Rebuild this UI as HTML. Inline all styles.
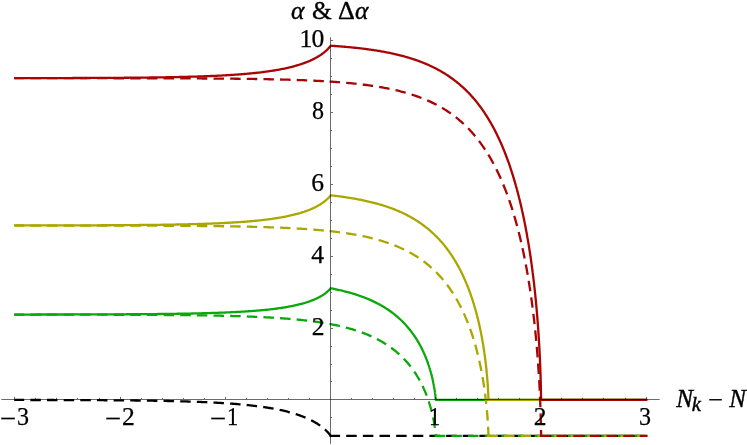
<!DOCTYPE html>
<html><head><meta charset="utf-8">
<style>
html,body{margin:0;padding:0;background:#fff;}
body{width:747px;height:445px;position:relative;overflow:hidden;font-family:"Liberation Serif",serif;color:#000;}
.g{position:absolute;white-space:nowrap;line-height:1;display:block;transform-origin:0 0;-webkit-text-stroke:0.2px #000;}
#txt{position:absolute;left:0;top:0;width:747px;height:445px;will-change:transform;}
</style></head><body>
<svg width="747" height="445" viewBox="0 0 747 445" style="position:absolute;left:0;top:0">
<defs><clipPath id="cp"><rect x="14.2" y="0" width="740" height="445"/></clipPath></defs>
<g fill="none" stroke-width="2.3" stroke-linejoin="round" stroke-linecap="square" clip-path="url(#cp)">
<path stroke="#000" stroke-dasharray="8.2 8.45" stroke-dashoffset="0.25" d="M15.10 399.96L16.15 399.96L17.20 399.96L18.26 399.96L19.31 399.96L20.36 399.97L21.41 399.97L22.46 399.97L23.52 399.97L24.57 399.97L25.62 399.97L26.67 399.97L27.72 399.98L28.78 399.98L29.83 399.98L30.88 399.98L31.93 399.98L32.98 399.98L34.04 399.99L35.09 399.99L36.14 399.99L37.19 399.99L38.24 399.99L39.30 399.99L40.35 400.00L41.40 400.00L42.45 400.00L43.50 400.00L44.56 400.00L45.61 400.01L46.66 400.01L47.71 400.01L48.76 400.01L49.82 400.01L50.87 400.02L51.92 400.02L52.97 400.02L54.02 400.02L55.08 400.03L56.13 400.03L57.18 400.03L58.23 400.03L59.28 400.04L60.34 400.04L61.39 400.04L62.44 400.05L63.49 400.05L64.54 400.05L65.60 400.06L66.65 400.06L67.70 400.06L68.75 400.06L69.80 400.07L70.86 400.07L71.91 400.07L72.96 400.08L74.01 400.08L75.06 400.09L76.12 400.09L77.17 400.09L78.22 400.10L79.27 400.10L80.32 400.11L81.38 400.11L82.43 400.11L83.48 400.12L84.53 400.12L85.58 400.13L86.64 400.13L87.69 400.14L88.74 400.14L89.79 400.15L90.84 400.15L91.90 400.16L92.95 400.16L94.00 400.17L95.05 400.17L96.10 400.18L97.16 400.18L98.21 400.19L99.26 400.19L100.31 400.20L101.36 400.21L102.42 400.21L103.47 400.22L104.52 400.23L105.57 400.23L106.62 400.24L107.68 400.25L108.73 400.25L109.78 400.26L110.83 400.27L111.88 400.27L112.94 400.28L113.99 400.29L115.04 400.30L116.09 400.31L117.14 400.31L118.20 400.32L119.25 400.33L120.30 400.34L121.35 400.35L122.40 400.36L123.46 400.37L124.51 400.38L125.56 400.39L126.61 400.40L127.66 400.41L128.72 400.42L129.77 400.43L130.82 400.44L131.87 400.45L132.92 400.46L133.98 400.47L135.03 400.48L136.08 400.50L137.13 400.51L138.18 400.52L139.24 400.53L140.29 400.54L141.34 400.56L142.39 400.57L143.44 400.58L144.50 400.60L145.55 400.61L146.60 400.63L147.65 400.64L148.70 400.66L149.76 400.67L150.81 400.69L151.86 400.70L152.91 400.72L153.96 400.74L155.02 400.75L156.07 400.77L157.12 400.79L158.17 400.81L159.22 400.83L160.28 400.85L161.33 400.86L162.38 400.88L163.43 400.90L164.48 400.93L165.54 400.95L166.59 400.97L167.64 400.99L168.69 401.01L169.74 401.03L170.80 401.06L171.85 401.08L172.90 401.11L173.95 401.13L175.00 401.15L176.06 401.18L177.11 401.21L178.16 401.23L179.21 401.26L180.26 401.29L181.32 401.32L182.37 401.35L183.42 401.38L184.47 401.41L185.52 401.44L186.58 401.47L187.63 401.50L188.68 401.53L189.73 401.57L190.78 401.60L191.84 401.64L192.89 401.67L193.94 401.71L194.99 401.75L196.04 401.78L197.10 401.82L198.15 401.86L199.20 401.90L200.25 401.94L201.30 401.99L202.36 402.03L203.41 402.07L204.46 402.12L205.51 402.16L206.56 402.21L207.62 402.26L208.67 402.31L209.72 402.36L210.77 402.41L211.82 402.46L212.88 402.51L213.93 402.57L214.98 402.62L216.03 402.68L217.08 402.73L218.14 402.79L219.19 402.85L220.24 402.92L221.29 402.98L222.34 403.04L223.40 403.11L224.45 403.17L225.50 403.24L226.55 403.31L227.60 403.38L228.66 403.46L229.71 403.53L230.76 403.61L231.81 403.69L232.86 403.76L233.92 403.85L234.97 403.93L236.02 404.01L237.07 404.10L238.12 404.19L239.18 404.28L240.23 404.37L241.28 404.47L242.33 404.56L243.38 404.66L244.44 404.76L245.49 404.87L246.54 404.97L247.59 405.08L248.64 405.19L249.70 405.30L250.75 405.42L251.80 405.54L252.85 405.66L253.90 405.78L254.96 405.91L256.01 406.03L257.06 406.17L258.11 406.30L259.16 406.44L260.22 406.58L261.27 406.73L262.32 406.87L263.37 407.03L264.42 407.18L265.48 407.34L266.53 407.50L267.58 407.67L268.63 407.84L269.68 408.01L270.74 408.19L271.79 408.38L272.84 408.56L273.89 408.76L274.94 408.95L276.00 409.15L277.05 409.36L278.10 409.57L279.15 409.79L280.20 410.01L281.26 410.24L282.31 410.48L283.36 410.72L284.41 410.96L285.46 411.22L286.52 411.48L287.57 411.74L288.62 412.02L289.67 412.30L290.72 412.59L291.78 412.88L292.83 413.19L293.88 413.50L294.93 413.83L295.98 414.16L297.04 414.50L298.09 414.85L299.14 415.21L300.18 415.58L300.19 415.58L301.21 415.96L301.24 415.97L302.22 416.33L302.30 416.36L303.21 416.72L303.35 416.77L304.18 417.10L304.40 417.19L305.14 417.50L305.45 417.63L306.07 417.89L306.50 418.08L306.99 418.29L307.56 418.54L307.90 418.69L308.61 419.02L308.78 419.10L309.65 419.51L309.66 419.52L310.50 419.93L310.71 420.03L311.33 420.34L311.76 420.56L312.15 420.76L312.82 421.11L312.95 421.18L313.73 421.61L313.87 421.69L314.49 422.04L314.92 422.28L315.24 422.46L315.96 422.90L315.97 422.90L316.67 423.33L317.02 423.54L317.37 423.76L318.04 424.19L318.08 424.22L318.70 424.63L319.13 424.92L319.34 425.06L319.96 425.50L320.18 425.65L320.57 425.93L321.15 426.36L321.23 426.42L321.72 426.79L322.28 427.22L322.28 427.23L322.81 427.65L323.33 428.07L323.34 428.08L323.83 428.49L324.31 428.91L324.39 428.98L324.77 429.32L325.22 429.73L325.44 429.93L325.65 430.12L326.06 430.52L326.46 430.90L326.49 430.94L326.83 431.28L327.19 431.65L327.54 432.01L327.54 432.02L327.86 432.36L328.17 432.69L328.46 433.02L328.60 433.18L328.73 433.33L328.98 433.62L329.22 433.91L329.44 434.17L329.64 434.42L329.65 434.43L329.82 434.65L329.99 434.86L330.14 435.05L330.27 435.23L330.38 435.38L330.48 435.50L330.56 435.61L330.62 435.69L330.66 435.75L330.69 435.79L330.70 435.80"/>
<path stroke="#000" stroke-dasharray="8.2 8.45" stroke-dashoffset="0" d="M330.70 435.80L331.75 435.80L332.80 435.80L333.86 435.80L334.91 435.80L335.96 435.80L337.01 435.80L338.06 435.80L339.12 435.80L340.17 435.80L341.22 435.80L342.27 435.80L343.32 435.80L344.38 435.80L345.43 435.80L346.48 435.80L347.53 435.80L348.58 435.80L349.64 435.80L350.69 435.80L351.74 435.80L352.79 435.80L353.84 435.80L354.90 435.80L355.95 435.80L357.00 435.80L358.05 435.80L359.10 435.80L360.16 435.80L361.21 435.80L362.26 435.80L363.31 435.80L364.36 435.80L365.42 435.80L366.47 435.80L367.52 435.80L368.57 435.80L369.62 435.80L370.68 435.80L371.73 435.80L372.78 435.80L373.83 435.80L374.88 435.80L375.94 435.80L376.99 435.80L378.04 435.80L379.09 435.80L380.14 435.80L381.20 435.80L382.25 435.80L383.30 435.80L384.35 435.80L385.40 435.80L386.46 435.80L387.51 435.80L388.56 435.80L389.61 435.80L390.66 435.80L391.72 435.80L392.77 435.80L393.82 435.80L394.87 435.80L395.92 435.80L396.98 435.80L398.03 435.80L399.08 435.80L400.13 435.80L401.18 435.80L402.24 435.80L403.29 435.80L404.34 435.80L405.39 435.80L406.44 435.80L407.50 435.80L408.55 435.80L409.60 435.80L410.65 435.80L411.70 435.80L412.76 435.80L413.81 435.80L414.86 435.80L415.91 435.80L416.96 435.80L418.02 435.80L419.07 435.80L420.12 435.80L421.17 435.80L422.22 435.80L423.28 435.80L424.33 435.80L425.38 435.80L426.43 435.80L427.48 435.80L428.54 435.80L429.59 435.80L430.64 435.80L431.69 435.80L432.74 435.80L433.80 435.80L434.85 435.80L435.90 435.80L436.95 435.80L438.00 435.80L439.06 435.80L440.11 435.80L441.16 435.80L442.21 435.80L443.26 435.80L444.32 435.80L445.37 435.80L446.42 435.80L447.47 435.80L448.52 435.80L449.58 435.80L450.63 435.80L451.68 435.80L452.73 435.80L453.78 435.80L454.84 435.80L455.89 435.80L456.94 435.80L457.99 435.80L459.04 435.80L460.10 435.80L461.15 435.80L462.20 435.80L463.25 435.80L464.30 435.80L465.36 435.80L466.41 435.80L467.46 435.80L468.51 435.80L469.56 435.80L470.62 435.80L471.67 435.80L472.72 435.80L473.77 435.80L474.82 435.80L475.88 435.80L476.93 435.80L477.98 435.80L479.03 435.80L480.08 435.80L481.14 435.80L482.19 435.80L483.24 435.80L484.29 435.80L485.34 435.80L486.40 435.80L487.45 435.80L488.50 435.80L489.55 435.80L490.60 435.80L491.66 435.80L492.71 435.80L493.76 435.80L494.81 435.80L495.86 435.80L496.92 435.80L497.97 435.80L499.02 435.80L500.07 435.80L501.12 435.80L502.18 435.80L503.23 435.80L504.28 435.80L505.33 435.80L506.38 435.80L507.44 435.80L508.49 435.80L509.54 435.80L510.59 435.80L511.64 435.80L512.70 435.80L513.75 435.80L514.80 435.80L515.85 435.80L516.90 435.80L517.96 435.80L519.01 435.80L520.06 435.80L521.11 435.80L522.16 435.80L523.22 435.80L524.27 435.80L525.32 435.80L526.37 435.80L527.42 435.80L528.48 435.80L529.53 435.80L530.58 435.80L531.63 435.80L532.68 435.80L533.74 435.80L534.79 435.80L535.84 435.80L536.89 435.80L537.94 435.80L539.00 435.80L540.05 435.80L541.10 435.80L542.15 435.80L543.20 435.80L544.26 435.80L545.31 435.80L546.36 435.80L547.41 435.80L548.46 435.80L549.52 435.80L550.57 435.80L551.62 435.80L552.67 435.80L553.72 435.80L554.78 435.80L555.83 435.80L556.88 435.80L557.93 435.80L558.98 435.80L560.04 435.80L561.09 435.80L562.14 435.80L563.19 435.80L564.24 435.80L565.30 435.80L566.35 435.80L567.40 435.80L568.45 435.80L569.50 435.80L570.56 435.80L571.61 435.80L572.66 435.80L573.71 435.80L574.76 435.80L575.82 435.80L576.87 435.80L577.92 435.80L578.97 435.80L580.02 435.80L581.08 435.80L582.13 435.80L583.18 435.80L584.23 435.80L585.28 435.80L586.34 435.80L587.39 435.80L588.44 435.80L589.49 435.80L590.54 435.80L591.60 435.80L592.65 435.80L593.70 435.80L594.75 435.80L595.80 435.80L596.86 435.80L597.91 435.80L598.96 435.80L600.01 435.80L601.06 435.80L602.12 435.80L603.17 435.80L604.22 435.80L605.27 435.80L606.32 435.80L607.38 435.80L608.43 435.80L609.48 435.80L610.53 435.80L611.58 435.80L612.64 435.80L613.69 435.80L614.74 435.80L615.79 435.80L616.84 435.80L617.90 435.80L618.95 435.80L620.00 435.80L621.05 435.80L622.10 435.80L623.16 435.80L624.21 435.80L625.26 435.80L626.31 435.80L627.36 435.80L628.42 435.80L629.47 435.80L630.52 435.80L631.57 435.80L632.62 435.80L633.68 435.80L634.73 435.80L635.78 435.80L636.83 435.80L637.88 435.80L638.94 435.80L639.99 435.80L641.04 435.80L642.09 435.80L643.14 435.80L644.20 435.80L645.25 435.80L646.30 435.80"/>
<path stroke="#0aa80a" d="M15.10 314.54L16.15 314.54L17.20 314.54L18.26 314.54L19.31 314.54L20.36 314.54L21.41 314.54L22.46 314.54L23.52 314.54L24.57 314.54L25.62 314.54L26.67 314.53L27.72 314.53L28.78 314.53L29.83 314.53L30.88 314.53L31.93 314.53L32.98 314.53L34.04 314.53L35.09 314.53L36.14 314.53L37.19 314.52L38.24 314.52L39.30 314.52L40.35 314.52L41.40 314.52L42.45 314.52L43.50 314.52L44.56 314.52L45.61 314.51L46.66 314.51L47.71 314.51L48.76 314.51L49.82 314.51L50.87 314.51L51.92 314.51L52.97 314.50L54.02 314.50L55.08 314.50L56.13 314.50L57.18 314.50L58.23 314.50L59.28 314.50L60.34 314.49L61.39 314.49L62.44 314.49L63.49 314.49L64.54 314.49L65.60 314.48L66.65 314.48L67.70 314.48L68.75 314.48L69.80 314.48L70.86 314.47L71.91 314.47L72.96 314.47L74.01 314.47L75.06 314.47L76.12 314.46L77.17 314.46L78.22 314.46L79.27 314.46L80.32 314.45L81.38 314.45L82.43 314.45L83.48 314.45L84.53 314.44L85.58 314.44L86.64 314.44L87.69 314.43L88.74 314.43L89.79 314.43L90.84 314.43L91.90 314.42L92.95 314.42L94.00 314.42L95.05 314.41L96.10 314.41L97.16 314.41L98.21 314.40L99.26 314.40L100.31 314.40L101.36 314.39L102.42 314.39L103.47 314.38L104.52 314.38L105.57 314.38L106.62 314.37L107.68 314.37L108.73 314.36L109.78 314.36L110.83 314.35L111.88 314.35L112.94 314.34L113.99 314.34L115.04 314.34L116.09 314.33L117.14 314.33L118.20 314.32L119.25 314.31L120.30 314.31L121.35 314.30L122.40 314.30L123.46 314.29L124.51 314.29L125.56 314.28L126.61 314.27L127.66 314.27L128.72 314.26L129.77 314.26L130.82 314.25L131.87 314.24L132.92 314.24L133.98 314.23L135.03 314.22L136.08 314.21L137.13 314.21L138.18 314.20L139.24 314.19L140.29 314.18L141.34 314.17L142.39 314.17L143.44 314.16L144.50 314.15L145.55 314.14L146.60 314.13L147.65 314.12L148.70 314.11L149.76 314.10L150.81 314.09L151.86 314.08L152.91 314.07L153.96 314.06L155.02 314.05L156.07 314.04L157.12 314.03L158.17 314.02L159.22 314.01L160.28 314.00L161.33 313.99L162.38 313.97L163.43 313.96L164.48 313.95L165.54 313.94L166.59 313.92L167.64 313.91L168.69 313.89L169.74 313.88L170.80 313.87L171.85 313.85L172.90 313.84L173.95 313.82L175.00 313.81L176.06 313.79L177.11 313.77L178.16 313.76L179.21 313.74L180.26 313.72L181.32 313.70L182.37 313.69L183.42 313.67L184.47 313.65L185.52 313.63L186.58 313.61L187.63 313.59L188.68 313.57L189.73 313.55L190.78 313.53L191.84 313.51L192.89 313.48L193.94 313.46L194.99 313.44L196.04 313.41L197.10 313.39L198.15 313.37L199.20 313.34L200.25 313.31L201.30 313.29L202.36 313.26L203.41 313.23L204.46 313.21L205.51 313.18L206.56 313.15L207.62 313.12L208.67 313.09L209.72 313.06L210.77 313.02L211.82 312.99L212.88 312.96L213.93 312.92L214.98 312.89L216.03 312.85L217.08 312.82L218.14 312.78L219.19 312.74L220.24 312.70L221.29 312.66L222.34 312.62L223.40 312.58L224.45 312.54L225.50 312.50L226.55 312.45L227.60 312.41L228.66 312.36L229.71 312.31L230.76 312.26L231.81 312.21L232.86 312.16L233.92 312.11L234.97 312.06L236.02 312.01L237.07 311.95L238.12 311.89L239.18 311.84L240.23 311.78L241.28 311.72L242.33 311.65L243.38 311.59L244.44 311.53L245.49 311.46L246.54 311.39L247.59 311.32L248.64 311.25L249.70 311.18L250.75 311.10L251.80 311.03L252.85 310.95L253.90 310.87L254.96 310.79L256.01 310.70L257.06 310.62L258.11 310.53L259.16 310.44L260.22 310.34L261.27 310.25L262.32 310.15L263.37 310.05L264.42 309.95L265.48 309.85L266.53 309.74L267.58 309.63L268.63 309.52L269.68 309.40L270.74 309.28L271.79 309.16L272.84 309.03L273.89 308.91L274.94 308.77L276.00 308.64L277.05 308.50L278.10 308.36L279.15 308.21L280.20 308.06L281.26 307.90L282.31 307.74L283.36 307.58L284.41 307.41L285.46 307.24L286.52 307.06L287.57 306.88L288.62 306.69L289.67 306.49L290.72 306.29L291.78 306.09L292.83 305.87L293.88 305.65L294.93 305.43L295.98 305.19L297.04 304.95L298.09 304.70L299.14 304.45L300.18 304.18L300.19 304.18L301.21 303.92L301.24 303.91L302.22 303.64L302.30 303.62L303.21 303.37L303.35 303.33L304.18 303.09L304.40 303.02L305.14 302.80L305.45 302.71L306.07 302.51L306.50 302.38L306.99 302.22L307.56 302.04L307.90 301.92L308.61 301.68L308.78 301.62L309.65 301.32L309.66 301.32L310.50 301.01L310.71 300.93L311.33 300.70L311.76 300.54L312.15 300.39L312.82 300.12L312.95 300.07L313.73 299.75L313.87 299.69L314.49 299.42L314.92 299.24L315.24 299.10L315.96 298.77L315.97 298.76L316.67 298.44L317.02 298.27L317.37 298.10L318.04 297.77L318.08 297.75L318.70 297.43L319.13 297.20L319.34 297.09L319.96 296.75L320.18 296.63L320.57 296.41L321.15 296.07L321.23 296.02L321.72 295.73L322.28 295.38L322.28 295.38L322.81 295.04L323.33 294.70L323.34 294.70L323.83 294.37L324.31 294.03L324.39 293.97L324.77 293.70L325.22 293.37L325.44 293.20L325.65 293.04L326.06 292.72L326.46 292.40L326.49 292.37L326.83 292.09L327.19 291.78L327.54 291.48L327.54 291.48L327.86 291.19L328.17 290.91L328.46 290.64L328.60 290.51L328.73 290.38L328.98 290.13L329.22 289.89L329.44 289.66L329.64 289.45L329.65 289.44L329.82 289.26L329.99 289.08L330.14 288.91L330.27 288.76L330.38 288.64L330.48 288.53L330.56 288.43L330.62 288.36L330.66 288.31L330.69 288.28L330.70 288.27L331.75 288.47L332.80 288.68L333.86 288.89L334.91 289.10L335.96 289.32L337.01 289.55L338.06 289.77L339.12 290.01L340.17 290.25L341.22 290.49L342.27 290.74L343.32 291.00L344.38 291.26L345.43 291.53L346.48 291.80L347.53 292.08L348.58 292.36L349.64 292.65L350.69 292.95L351.74 293.26L352.79 293.57L353.84 293.89L354.90 294.22L355.95 294.55L357.00 294.89L358.05 295.24L359.10 295.60L360.16 295.97L361.21 296.34L362.26 296.72L363.31 297.12L364.36 297.52L365.42 297.93L366.47 298.35L367.52 298.78L368.57 299.22L369.62 299.67L370.68 300.14L371.73 300.61L372.78 301.09L373.83 301.59L374.88 302.10L375.94 302.62L376.99 303.16L378.04 303.71L379.09 304.27L380.14 304.85L381.20 305.44L382.25 306.04L383.30 306.67L384.35 307.31L385.40 307.96L386.46 308.63L387.51 309.32L388.56 310.03L389.61 310.76L390.66 311.51L391.72 312.28L392.77 313.07L393.82 313.88L394.87 314.71L395.92 315.57L396.98 316.45L398.03 317.36L399.08 318.30L400.13 319.26L401.18 320.26L402.24 321.28L403.29 322.34L404.34 323.43L405.39 324.55L406.44 325.71L407.50 326.91L408.55 328.16L409.60 329.44L409.86 329.77L410.12 330.09L410.38 330.42L410.64 330.75L410.65 330.77L410.89 331.08L411.15 331.41L411.40 331.74L411.65 332.07L411.70 332.15L411.90 332.41L412.14 332.74L412.39 333.07L412.63 333.40L412.76 333.58L412.87 333.74L413.11 334.07L413.35 334.41L413.59 334.74L413.81 335.06L413.82 335.08L414.06 335.42L414.29 335.75L414.52 336.09L414.75 336.43L414.86 336.60L414.97 336.77L415.20 337.11L415.42 337.45L415.64 337.79L415.86 338.13L415.91 338.20L416.08 338.47L416.30 338.81L416.51 339.15L416.73 339.49L416.94 339.83L416.96 339.87L417.15 340.18L417.36 340.52L417.57 340.86L417.77 341.21L417.98 341.55L418.02 341.61L418.18 341.89L418.38 342.24L418.58 342.58L418.78 342.93L418.98 343.27L419.07 343.43L419.17 343.62L419.37 343.96L419.56 344.31L419.75 344.65L419.94 345.00L420.12 345.33L420.13 345.34L420.31 345.69L420.50 346.04L420.68 346.38L420.86 346.73L421.04 347.08L421.17 347.33L421.22 347.42L421.40 347.77L421.58 348.12L421.75 348.46L421.92 348.81L422.09 349.16L422.22 349.42L422.27 349.50L422.43 349.85L422.60 350.20L422.77 350.54L422.93 350.89L423.10 351.24L423.26 351.58L423.28 351.62L423.42 351.93L423.58 352.28L423.74 352.62L423.89 352.97L424.05 353.32L424.20 353.66L424.33 353.95L424.35 354.01L424.51 354.36L424.66 354.70L424.80 355.05L424.95 355.39L425.10 355.74L425.24 356.08L425.38 356.41L425.39 356.43L425.53 356.77L425.67 357.11L425.81 357.46L425.95 357.80L426.08 358.14L426.22 358.49L426.35 358.83L426.43 359.03L426.49 359.17L426.62 359.51L426.75 359.86L426.88 360.20L427.01 360.54L427.13 360.88L427.26 361.22L427.38 361.56L427.48 361.83L427.51 361.90L427.63 362.23L427.75 362.57L427.87 362.91L427.99 363.25L428.11 363.58L428.22 363.92L428.34 364.26L428.45 364.59L428.54 364.84L428.57 364.92L428.68 365.26L428.79 365.59L428.90 365.92L429.01 366.26L429.11 366.59L429.22 366.92L429.32 367.25L429.43 367.58L429.53 367.91L429.59 368.09L429.63 368.23L429.73 368.56L429.83 368.89L429.93 369.21L430.03 369.54L430.12 369.86L430.22 370.18L430.31 370.51L430.41 370.83L430.50 371.15L430.59 371.47L430.64 371.65L430.68 371.79L430.77 372.11L430.86 372.42L430.94 372.74L431.03 373.05L431.11 373.37L431.20 373.68L431.28 373.99L431.36 374.31L431.44 374.62L431.52 374.93L431.60 375.23L431.68 375.54L431.69 375.58L431.76 375.85L431.83 376.15L431.91 376.46L431.98 376.76L432.06 377.06L432.13 377.36L432.20 377.66L432.27 377.96L432.34 378.25L432.41 378.55L432.48 378.84L432.55 379.14L432.61 379.43L432.68 379.72L432.74 380.01L432.74 380.02L432.81 380.30L432.87 380.58L432.93 380.87L432.99 381.15L433.05 381.43L433.11 381.71L433.17 381.99L433.23 382.27L433.28 382.55L433.34 382.82L433.40 383.10L433.45 383.37L433.50 383.64L433.56 383.91L433.61 384.17L433.66 384.44L433.71 384.70L433.76 384.96L433.80 385.15L433.81 385.22L433.86 385.48L433.90 385.74L433.95 385.99L434.00 386.25L434.04 386.50L434.09 386.75L434.13 387.00L434.17 387.24L434.22 387.49L434.26 387.73L434.30 387.97L434.34 388.21L434.38 388.44L434.42 388.68L434.46 388.91L434.49 389.14L434.53 389.37L434.57 389.59L434.60 389.82L434.64 390.04L434.67 390.26L434.71 390.47L434.74 390.69L434.77 390.90L434.80 391.11L434.84 391.32L434.85 391.40L434.87 391.53L434.90 391.73L434.93 391.93L434.95 392.13L434.98 392.33L435.01 392.52L435.04 392.72L435.06 392.91L435.09 393.09L435.12 393.28L435.14 393.46L435.17 393.64L435.19 393.82L435.21 393.99L435.24 394.16L435.26 394.33L435.28 394.50L435.30 394.66L435.32 394.83L435.34 394.98L435.36 395.14L435.38 395.30L435.40 395.45L435.42 395.59L435.44 395.74L435.46 395.88L435.47 396.02L435.49 396.16L435.51 396.30L435.52 396.43L435.54 396.56L435.55 396.68L435.57 396.81L435.58 396.93L435.59 397.05L435.61 397.16L435.62 397.27L435.63 397.38L435.64 397.49L435.66 397.60L435.67 397.70L435.68 397.80L435.69 397.89L435.70 397.99L435.71 398.08L435.72 398.17L435.73 398.25L435.74 398.34L435.75 398.42L435.75 398.49L435.76 398.57L435.77 398.64L435.78 398.71L435.79 398.78L435.79 398.85L435.79 398.87L435.80 398.91L435.81 398.97L435.81 399.03L435.82 399.08L435.82 399.14L435.83 399.19L435.83 399.24L435.84 399.28L435.84 399.33L435.85 399.37L435.85 399.41L435.85 399.45L435.86 399.48L435.86 399.52L435.86 399.55L435.87 399.58L435.87 399.61L435.87 399.64L435.88 399.66L435.88 399.69L435.88 399.71L435.88 399.73L435.88 399.75L435.89 399.76L435.89 399.78L435.89 399.79L435.89 399.80L435.89 399.81L435.89 399.82L435.89 399.83L435.89 399.84L435.90 399.85L435.90 399.86L435.90 399.87L435.90 399.87L435.90 399.88L435.90 399.88L435.90 399.89L435.90 399.89L435.90 399.89L435.90 399.89L435.90 399.90L435.90 399.90L435.90 399.90L435.90 399.90L435.90 399.90L435.90 399.90L435.90 399.90L435.90 399.90L435.90 399.90L435.90 399.90L435.90 399.90L435.90 399.90L435.90 399.90L645.80 399.90"/>
<path stroke="#0aa80a" stroke-dasharray="8.2 8.45" stroke-dashoffset="0.25" d="M15.10 314.60L16.15 314.60L17.20 314.60L18.26 314.60L19.31 314.60L20.36 314.61L21.41 314.61L22.46 314.61L23.52 314.61L24.57 314.61L25.62 314.61L26.67 314.61L27.72 314.61L28.78 314.61L29.83 314.61L30.88 314.61L31.93 314.61L32.98 314.61L34.04 314.61L35.09 314.61L36.14 314.61L37.19 314.61L38.24 314.62L39.30 314.62L40.35 314.62L41.40 314.62L42.45 314.62L43.50 314.62L44.56 314.62L45.61 314.62L46.66 314.62L47.71 314.62L48.76 314.62L49.82 314.62L50.87 314.62L51.92 314.63L52.97 314.63L54.02 314.63L55.08 314.63L56.13 314.63L57.18 314.63L58.23 314.63L59.28 314.63L60.34 314.63L61.39 314.64L62.44 314.64L63.49 314.64L64.54 314.64L65.60 314.64L66.65 314.64L67.70 314.64L68.75 314.64L69.80 314.64L70.86 314.65L71.91 314.65L72.96 314.65L74.01 314.65L75.06 314.65L76.12 314.65L77.17 314.65L78.22 314.66L79.27 314.66L80.32 314.66L81.38 314.66L82.43 314.66L83.48 314.66L84.53 314.67L85.58 314.67L86.64 314.67L87.69 314.67L88.74 314.67L89.79 314.67L90.84 314.68L91.90 314.68L92.95 314.68L94.00 314.68L95.05 314.68L96.10 314.69L97.16 314.69L98.21 314.69L99.26 314.69L100.31 314.70L101.36 314.70L102.42 314.70L103.47 314.70L104.52 314.71L105.57 314.71L106.62 314.71L107.68 314.71L108.73 314.72L109.78 314.72L110.83 314.72L111.88 314.72L112.94 314.73L113.99 314.73L115.04 314.73L116.09 314.74L117.14 314.74L118.20 314.74L119.25 314.75L120.30 314.75L121.35 314.75L122.40 314.76L123.46 314.76L124.51 314.76L125.56 314.77L126.61 314.77L127.66 314.77L128.72 314.78L129.77 314.78L130.82 314.79L131.87 314.79L132.92 314.80L133.98 314.80L135.03 314.80L136.08 314.81L137.13 314.81L138.18 314.82L139.24 314.82L140.29 314.83L141.34 314.83L142.39 314.84L143.44 314.84L144.50 314.85L145.55 314.85L146.60 314.86L147.65 314.87L148.70 314.87L149.76 314.88L150.81 314.88L151.86 314.89L152.91 314.90L153.96 314.90L155.02 314.91L156.07 314.91L157.12 314.92L158.17 314.93L159.22 314.94L160.28 314.94L161.33 314.95L162.38 314.96L163.43 314.97L164.48 314.97L165.54 314.98L166.59 314.99L167.64 315.00L168.69 315.01L169.74 315.01L170.80 315.02L171.85 315.03L172.90 315.04L173.95 315.05L175.00 315.06L176.06 315.07L177.11 315.08L178.16 315.09L179.21 315.10L180.26 315.11L181.32 315.12L182.37 315.13L183.42 315.14L184.47 315.16L185.52 315.17L186.58 315.18L187.63 315.19L188.68 315.20L189.73 315.22L190.78 315.23L191.84 315.24L192.89 315.26L193.94 315.27L194.99 315.28L196.04 315.30L197.10 315.31L198.15 315.33L199.20 315.34L200.25 315.36L201.30 315.37L202.36 315.39L203.41 315.41L204.46 315.42L205.51 315.44L206.56 315.46L207.62 315.47L208.67 315.49L209.72 315.51L210.77 315.53L211.82 315.55L212.88 315.57L213.93 315.59L214.98 315.61L216.03 315.63L217.08 315.65L218.14 315.67L219.19 315.70L220.24 315.72L221.29 315.74L222.34 315.77L223.40 315.79L224.45 315.81L225.50 315.84L226.55 315.86L227.60 315.89L228.66 315.92L229.71 315.94L230.76 315.97L231.81 316.00L232.86 316.03L233.92 316.06L234.97 316.09L236.02 316.12L237.07 316.15L238.12 316.18L239.18 316.21L240.23 316.25L241.28 316.28L242.33 316.32L243.38 316.35L244.44 316.39L245.49 316.42L246.54 316.46L247.59 316.50L248.64 316.54L249.70 316.58L250.75 316.62L251.80 316.66L252.85 316.70L253.90 316.75L254.96 316.79L256.01 316.84L257.06 316.88L258.11 316.93L259.16 316.98L260.22 317.03L261.27 317.08L262.32 317.13L263.37 317.18L264.42 317.23L265.48 317.29L266.53 317.34L267.58 317.40L268.63 317.45L269.68 317.51L270.74 317.57L271.79 317.63L272.84 317.70L273.89 317.76L274.94 317.83L276.00 317.89L277.05 317.96L278.10 318.03L279.15 318.10L280.20 318.17L281.26 318.25L282.31 318.32L283.36 318.40L284.41 318.48L285.46 318.56L286.52 318.64L287.57 318.72L288.62 318.80L289.67 318.89L290.72 318.98L291.78 319.07L292.83 319.16L293.88 319.26L294.93 319.35L295.98 319.45L297.04 319.55L298.09 319.65L299.14 319.76L300.18 319.86L300.19 319.87L301.21 319.97L301.24 319.97L302.22 320.08L302.30 320.09L303.21 320.18L303.35 320.20L304.18 320.29L304.40 320.31L305.14 320.40L305.45 320.43L306.07 320.50L306.50 320.55L306.99 320.61L307.56 320.68L307.90 320.72L308.61 320.80L308.78 320.82L309.65 320.93L309.66 320.93L310.50 321.04L310.71 321.06L311.33 321.14L311.76 321.20L312.15 321.25L312.82 321.34L312.95 321.35L313.73 321.46L313.87 321.48L314.49 321.56L314.92 321.62L315.24 321.66L315.96 321.76L315.97 321.76L316.67 321.86L317.02 321.91L317.37 321.96L318.04 322.06L318.08 322.07L318.70 322.16L319.13 322.22L319.34 322.25L319.96 322.35L320.18 322.38L320.57 322.44L321.15 322.53L321.23 322.54L321.72 322.62L322.28 322.71L322.28 322.71L322.81 322.79L323.33 322.88L323.34 322.88L323.83 322.96L324.31 323.04L324.39 323.05L324.77 323.12L325.22 323.19L325.44 323.23L325.65 323.26L326.06 323.33L326.46 323.40L326.49 323.41L326.83 323.47L327.19 323.53L327.54 323.59L327.54 323.59L327.86 323.65L328.17 323.70L328.46 323.76L328.60 323.78L328.73 323.81L328.98 323.85L329.22 323.89L329.44 323.94L329.64 323.97L329.65 323.97L329.82 324.01L329.99 324.04L330.14 324.07L330.27 324.09L330.38 324.11L330.48 324.13L330.56 324.14L330.62 324.16L330.66 324.16L330.69 324.17L330.70 324.17"/>
<path stroke="#0aa80a" stroke-dasharray="8.2 8.45" stroke-dashoffset="0" d="M330.70 324.17L331.75 324.37L332.80 324.58L333.86 324.79L334.91 325.00L335.96 325.22L337.01 325.45L338.06 325.67L339.12 325.91L340.17 326.15L341.22 326.39L342.27 326.64L343.32 326.90L344.38 327.16L345.43 327.43L346.48 327.70L347.53 327.98L348.58 328.26L349.64 328.55L350.69 328.85L351.74 329.16L352.79 329.47L353.84 329.79L354.90 330.12L355.95 330.45L357.00 330.79L358.05 331.14L359.10 331.50L360.16 331.87L361.21 332.24L362.26 332.62L363.31 333.02L364.36 333.42L365.42 333.83L366.47 334.25L367.52 334.68L368.57 335.12L369.62 335.57L370.68 336.04L371.73 336.51L372.78 336.99L373.83 337.49L374.88 338.00L375.94 338.52L376.99 339.06L378.04 339.61L379.09 340.17L380.14 340.75L381.20 341.34L382.25 341.94L383.30 342.57L384.35 343.21L385.40 343.86L386.46 344.53L387.51 345.22L388.56 345.93L389.61 346.66L390.66 347.41L391.72 348.18L392.77 348.97L393.82 349.78L394.87 350.61L395.92 351.47L396.98 352.35L398.03 353.26L399.08 354.20L400.13 355.16L401.18 356.16L402.24 357.18L403.29 358.24L404.34 359.33L405.39 360.45L406.44 361.61L407.50 362.81L408.55 364.06L409.60 365.34L409.86 365.67L410.12 365.99L410.38 366.32L410.64 366.65L410.65 366.67L410.89 366.98L411.15 367.31L411.40 367.64L411.65 367.97L411.70 368.05L411.90 368.31L412.14 368.64L412.39 368.97L412.63 369.30L412.76 369.48L412.87 369.64L413.11 369.97L413.35 370.31L413.59 370.64L413.81 370.96L413.82 370.98L414.06 371.32L414.29 371.65L414.52 371.99L414.75 372.33L414.86 372.50L414.97 372.67L415.20 373.01L415.42 373.35L415.64 373.69L415.86 374.03L415.91 374.10L416.08 374.37L416.30 374.71L416.51 375.05L416.73 375.39L416.94 375.73L416.96 375.77L417.15 376.08L417.36 376.42L417.57 376.76L417.77 377.11L417.98 377.45L418.02 377.51L418.18 377.79L418.38 378.14L418.58 378.48L418.78 378.83L418.98 379.17L419.07 379.33L419.17 379.52L419.37 379.86L419.56 380.21L419.75 380.55L419.94 380.90L420.12 381.23L420.13 381.24L420.31 381.59L420.50 381.94L420.68 382.28L420.86 382.63L421.04 382.98L421.17 383.23L421.22 383.32L421.40 383.67L421.58 384.02L421.75 384.36L421.92 384.71L422.09 385.06L422.22 385.32L422.27 385.40L422.43 385.75L422.60 386.10L422.77 386.44L422.93 386.79L423.10 387.14L423.26 387.48L423.28 387.52L423.42 387.83L423.58 388.18L423.74 388.52L423.89 388.87L424.05 389.22L424.20 389.56L424.33 389.85L424.35 389.91L424.51 390.26L424.66 390.60L424.80 390.95L424.95 391.29L425.10 391.64L425.24 391.98L425.38 392.31L425.39 392.33L425.53 392.67L425.67 393.01L425.81 393.36L425.95 393.70L426.08 394.04L426.22 394.39L426.35 394.73L426.43 394.93L426.49 395.07L426.62 395.41L426.75 395.76L426.88 396.10L427.01 396.44L427.13 396.78L427.26 397.12L427.38 397.46L427.48 397.73L427.51 397.80L427.63 398.13L427.75 398.47L427.87 398.81L427.99 399.15L428.11 399.48L428.22 399.82L428.34 400.16L428.45 400.49L428.54 400.74L428.57 400.82L428.68 401.16L428.79 401.49L428.90 401.82L429.01 402.16L429.11 402.49L429.22 402.82L429.32 403.15L429.43 403.48L429.53 403.81L429.59 403.99L429.63 404.13L429.73 404.46L429.83 404.79L429.93 405.11L430.03 405.44L430.12 405.76L430.22 406.08L430.31 406.41L430.41 406.73L430.50 407.05L430.59 407.37L430.64 407.55L430.68 407.69L430.77 408.01L430.86 408.32L430.94 408.64L431.03 408.95L431.11 409.27L431.20 409.58L431.28 409.89L431.36 410.21L431.44 410.52L431.52 410.83L431.60 411.13L431.68 411.44L431.69 411.48L431.76 411.75L431.83 412.05L431.91 412.36L431.98 412.66L432.06 412.96L432.13 413.26L432.20 413.56L432.27 413.86L432.34 414.15L432.41 414.45L432.48 414.74L432.55 415.04L432.61 415.33L432.68 415.62L432.74 415.91L432.74 415.92L432.81 416.20L432.87 416.48L432.93 416.77L432.99 417.05L433.05 417.33L433.11 417.61L433.17 417.89L433.23 418.17L433.28 418.45L433.34 418.72L433.40 419.00L433.45 419.27L433.50 419.54L433.56 419.81L433.61 420.07L433.66 420.34L433.71 420.60L433.76 420.86L433.80 421.05L433.81 421.12L433.86 421.38L433.90 421.64L433.95 421.89L434.00 422.15L434.04 422.40L434.09 422.65L434.13 422.90L434.17 423.14L434.22 423.39L434.26 423.63L434.30 423.87L434.34 424.11L434.38 424.34L434.42 424.58L434.46 424.81L434.49 425.04L434.53 425.27L434.57 425.49L434.60 425.72L434.64 425.94L434.67 426.16L434.71 426.37L434.74 426.59L434.77 426.80L434.80 427.01L434.84 427.22L434.85 427.30L434.87 427.43L434.90 427.63L434.93 427.83L434.95 428.03L434.98 428.23L435.01 428.42L435.04 428.62L435.06 428.81L435.09 428.99L435.12 429.18L435.14 429.36L435.17 429.54L435.19 429.72L435.21 429.89L435.24 430.06L435.26 430.23L435.28 430.40L435.30 430.56L435.32 430.73L435.34 430.88L435.36 431.04L435.38 431.20L435.40 431.35L435.42 431.49L435.44 431.64L435.46 431.78L435.47 431.92L435.49 432.06L435.51 432.20L435.52 432.33L435.54 432.46L435.55 432.58L435.57 432.71L435.58 432.83L435.59 432.95L435.61 433.06L435.62 433.17L435.63 433.28L435.64 433.39L435.66 433.50L435.67 433.60L435.68 433.70L435.69 433.79L435.70 433.89L435.71 433.98L435.72 434.07L435.73 434.15L435.74 434.24L435.75 434.32L435.75 434.39L435.76 434.47L435.77 434.54L435.78 434.61L435.79 434.68L435.79 434.75L435.79 434.77L435.80 434.81L435.81 434.87L435.81 434.93L435.82 434.98L435.82 435.04L435.83 435.09L435.83 435.14L435.84 435.18L435.84 435.23L435.85 435.27L435.85 435.31L435.85 435.35L435.86 435.38L435.86 435.42L435.86 435.45L435.87 435.48L435.87 435.51L435.87 435.54L435.88 435.56L435.88 435.59L435.88 435.61L435.88 435.63L435.88 435.65L435.89 435.66L435.89 435.68L435.89 435.69L435.89 435.70L435.89 435.71L435.89 435.72L435.89 435.73L435.89 435.74L435.90 435.75L435.90 435.76L435.90 435.77L435.90 435.77L435.90 435.78L435.90 435.78L435.90 435.79L435.90 435.79L435.90 435.79L435.90 435.79L435.90 435.80L435.90 435.80L435.90 435.80L435.90 435.80L435.90 435.80L435.90 435.80L435.90 435.80L435.90 435.80L435.90 435.80L435.90 435.80L435.90 435.80L435.90 435.80L435.90 435.80"/>
<path stroke="#0aa80a" stroke-dasharray="8.2 8.45" stroke-dashoffset="0" d="M435.90 435.80L436.95 435.80L438.00 435.80L439.06 435.80L440.11 435.80L441.16 435.80L442.21 435.80L443.26 435.80L444.32 435.80L445.37 435.80L446.42 435.80L447.47 435.80L448.52 435.80L449.58 435.80L450.63 435.80L451.68 435.80L452.73 435.80L453.78 435.80L454.84 435.80L455.89 435.80L456.94 435.80L457.99 435.80L459.04 435.80L460.10 435.80L461.15 435.80L462.20 435.80L463.25 435.80L464.30 435.80L465.36 435.80L466.41 435.80L467.46 435.80L468.51 435.80L469.56 435.80L470.62 435.80L471.67 435.80L472.72 435.80L473.77 435.80L474.82 435.80L475.88 435.80L476.93 435.80L477.98 435.80L479.03 435.80L480.08 435.80L481.14 435.80L482.19 435.80L483.24 435.80L484.29 435.80L485.34 435.80L486.40 435.80L487.45 435.80L488.50 435.80L489.55 435.80L490.60 435.80L491.66 435.80L492.71 435.80L493.76 435.80L494.81 435.80L495.86 435.80L496.92 435.80L497.97 435.80L499.02 435.80L500.07 435.80L501.12 435.80L502.18 435.80L503.23 435.80L504.28 435.80L505.33 435.80L506.38 435.80L507.44 435.80L508.49 435.80L509.54 435.80L510.59 435.80L511.64 435.80L512.70 435.80L513.75 435.80L514.80 435.80L515.85 435.80L516.90 435.80L517.96 435.80L519.01 435.80L520.06 435.80L521.11 435.80L522.16 435.80L523.22 435.80L524.27 435.80L525.32 435.80L526.37 435.80L527.42 435.80L528.48 435.80L529.53 435.80L530.58 435.80L531.63 435.80L532.68 435.80L533.74 435.80L534.79 435.80L535.84 435.80L536.89 435.80L537.94 435.80L539.00 435.80L540.05 435.80L541.10 435.80L542.15 435.80L543.20 435.80L544.26 435.80L545.31 435.80L546.36 435.80L547.41 435.80L548.46 435.80L549.52 435.80L550.57 435.80L551.62 435.80L552.67 435.80L553.72 435.80L554.78 435.80L555.83 435.80L556.88 435.80L557.93 435.80L558.98 435.80L560.04 435.80L561.09 435.80L562.14 435.80L563.19 435.80L564.24 435.80L565.30 435.80L566.35 435.80L567.40 435.80L568.45 435.80L569.50 435.80L570.56 435.80L571.61 435.80L572.66 435.80L573.71 435.80L574.76 435.80L575.82 435.80L576.87 435.80L577.92 435.80L578.97 435.80L580.02 435.80L581.08 435.80L582.13 435.80L583.18 435.80L584.23 435.80L585.28 435.80L586.34 435.80L587.39 435.80L588.44 435.80L589.49 435.80L590.54 435.80L591.60 435.80L592.65 435.80L593.70 435.80L594.75 435.80L595.80 435.80L596.86 435.80L597.91 435.80L598.96 435.80L600.01 435.80L601.06 435.80L602.12 435.80L603.17 435.80L604.22 435.80L605.27 435.80L606.32 435.80L607.38 435.80L608.43 435.80L609.48 435.80L610.53 435.80L611.58 435.80L612.64 435.80L613.69 435.80L614.74 435.80L615.79 435.80L616.84 435.80L617.90 435.80L618.95 435.80L620.00 435.80L621.05 435.80L622.10 435.80L623.16 435.80L624.21 435.80L625.26 435.80L626.31 435.80L627.36 435.80L628.42 435.80L629.47 435.80L630.52 435.80L631.57 435.80L632.62 435.80L633.68 435.80L634.73 435.80L635.78 435.80L636.83 435.80L637.88 435.80L638.94 435.80L639.99 435.80L641.04 435.80L642.09 435.80L643.14 435.80L644.20 435.80L645.25 435.80L646.30 435.80"/>
<path stroke="#aaa800" d="M15.10 225.46L16.15 225.46L17.20 225.46L18.26 225.46L19.31 225.46L20.36 225.46L21.41 225.46L22.46 225.45L23.52 225.45L24.57 225.45L25.62 225.45L26.67 225.45L27.72 225.45L28.78 225.45L29.83 225.45L30.88 225.45L31.93 225.44L32.98 225.44L34.04 225.44L35.09 225.44L36.14 225.44L37.19 225.44L38.24 225.44L39.30 225.43L40.35 225.43L41.40 225.43L42.45 225.43L43.50 225.43L44.56 225.43L45.61 225.43L46.66 225.42L47.71 225.42L48.76 225.42L49.82 225.42L50.87 225.42L51.92 225.42L52.97 225.41L54.02 225.41L55.08 225.41L56.13 225.41L57.18 225.41L58.23 225.40L59.28 225.40L60.34 225.40L61.39 225.40L62.44 225.39L63.49 225.39L64.54 225.39L65.60 225.39L66.65 225.39L67.70 225.38L68.75 225.38L69.80 225.38L70.86 225.38L71.91 225.37L72.96 225.37L74.01 225.37L75.06 225.36L76.12 225.36L77.17 225.36L78.22 225.36L79.27 225.35L80.32 225.35L81.38 225.35L82.43 225.34L83.48 225.34L84.53 225.34L85.58 225.33L86.64 225.33L87.69 225.33L88.74 225.32L89.79 225.32L90.84 225.31L91.90 225.31L92.95 225.31L94.00 225.30L95.05 225.30L96.10 225.29L97.16 225.29L98.21 225.29L99.26 225.28L100.31 225.28L101.36 225.27L102.42 225.27L103.47 225.26L104.52 225.26L105.57 225.25L106.62 225.25L107.68 225.24L108.73 225.24L109.78 225.23L110.83 225.23L111.88 225.22L112.94 225.21L113.99 225.21L115.04 225.20L116.09 225.20L117.14 225.19L118.20 225.18L119.25 225.18L120.30 225.17L121.35 225.16L122.40 225.16L123.46 225.15L124.51 225.14L125.56 225.13L126.61 225.13L127.66 225.12L128.72 225.11L129.77 225.10L130.82 225.09L131.87 225.09L132.92 225.08L133.98 225.07L135.03 225.06L136.08 225.05L137.13 225.04L138.18 225.03L139.24 225.02L140.29 225.01L141.34 225.00L142.39 224.99L143.44 224.98L144.50 224.97L145.55 224.96L146.60 224.95L147.65 224.94L148.70 224.93L149.76 224.91L150.81 224.90L151.86 224.89L152.91 224.88L153.96 224.86L155.02 224.85L156.07 224.84L157.12 224.82L158.17 224.81L159.22 224.80L160.28 224.78L161.33 224.77L162.38 224.75L163.43 224.74L164.48 224.72L165.54 224.70L166.59 224.69L167.64 224.67L168.69 224.65L169.74 224.64L170.80 224.62L171.85 224.60L172.90 224.58L173.95 224.56L175.00 224.54L176.06 224.52L177.11 224.50L178.16 224.48L179.21 224.46L180.26 224.44L181.32 224.42L182.37 224.40L183.42 224.37L184.47 224.35L185.52 224.33L186.58 224.30L187.63 224.28L188.68 224.25L189.73 224.23L190.78 224.20L191.84 224.17L192.89 224.15L193.94 224.12L194.99 224.09L196.04 224.06L197.10 224.03L198.15 224.00L199.20 223.97L200.25 223.94L201.30 223.90L202.36 223.87L203.41 223.84L204.46 223.80L205.51 223.77L206.56 223.73L207.62 223.69L208.67 223.66L209.72 223.62L210.77 223.58L211.82 223.54L212.88 223.50L213.93 223.46L214.98 223.41L216.03 223.37L217.08 223.32L218.14 223.28L219.19 223.23L220.24 223.18L221.29 223.14L222.34 223.09L223.40 223.03L224.45 222.98L225.50 222.93L226.55 222.87L227.60 222.82L228.66 222.76L229.71 222.70L230.76 222.65L231.81 222.58L232.86 222.52L233.92 222.46L234.97 222.39L236.02 222.33L237.07 222.26L238.12 222.19L239.18 222.12L240.23 222.05L241.28 221.97L242.33 221.90L243.38 221.82L244.44 221.74L245.49 221.66L246.54 221.58L247.59 221.49L248.64 221.41L249.70 221.32L250.75 221.23L251.80 221.13L252.85 221.04L253.90 220.94L254.96 220.84L256.01 220.74L257.06 220.64L258.11 220.53L259.16 220.42L260.22 220.31L261.27 220.19L262.32 220.08L263.37 219.96L264.42 219.83L265.48 219.71L266.53 219.58L267.58 219.44L268.63 219.31L269.68 219.17L270.74 219.03L271.79 218.88L272.84 218.73L273.89 218.58L274.94 218.42L276.00 218.26L277.05 218.09L278.10 217.92L279.15 217.74L280.20 217.57L281.26 217.38L282.31 217.19L283.36 217.00L284.41 216.80L285.46 216.59L286.52 216.38L287.57 216.16L288.62 215.94L289.67 215.71L290.72 215.48L291.78 215.23L292.83 214.98L293.88 214.72L294.93 214.46L295.98 214.19L297.04 213.90L298.09 213.61L299.14 213.32L300.18 213.01L300.19 213.01L301.21 212.70L301.24 212.69L302.22 212.38L302.30 212.36L303.21 212.06L303.35 212.02L304.18 211.74L304.40 211.66L305.14 211.41L305.45 211.30L306.07 211.08L306.50 210.92L306.99 210.74L307.56 210.53L307.90 210.40L308.61 210.13L308.78 210.06L309.65 209.71L309.66 209.71L310.50 209.36L310.71 209.27L311.33 209.01L311.76 208.82L312.15 208.65L312.82 208.35L312.95 208.29L313.73 207.92L313.87 207.86L314.49 207.56L314.92 207.35L315.24 207.19L315.96 206.82L315.97 206.81L316.67 206.45L317.02 206.26L317.37 206.07L318.04 205.70L318.08 205.68L318.70 205.32L319.13 205.07L319.34 204.94L319.96 204.56L320.18 204.42L320.57 204.18L321.15 203.80L321.23 203.75L321.72 203.42L322.28 203.05L322.28 203.04L322.81 202.67L323.33 202.30L323.34 202.29L323.83 201.92L324.31 201.55L324.39 201.49L324.77 201.19L325.22 200.83L325.44 200.65L325.65 200.47L326.06 200.12L326.46 199.77L326.49 199.74L326.83 199.43L327.19 199.10L327.54 198.78L327.54 198.77L327.86 198.46L328.17 198.16L328.46 197.87L328.60 197.72L328.73 197.58L328.98 197.31L329.22 197.06L329.44 196.82L329.64 196.59L329.65 196.58L329.82 196.38L329.99 196.19L330.14 196.01L330.27 195.85L330.38 195.71L330.48 195.60L330.56 195.50L330.62 195.42L330.66 195.37L330.69 195.34L330.70 195.32L331.75 195.44L332.80 195.56L333.86 195.68L334.91 195.81L335.96 195.93L337.01 196.06L338.06 196.20L339.12 196.33L340.17 196.47L341.22 196.61L342.27 196.75L343.32 196.90L344.38 197.05L345.43 197.20L346.48 197.36L347.53 197.52L348.58 197.68L349.64 197.85L350.69 198.02L351.74 198.19L352.79 198.37L353.84 198.55L354.90 198.73L355.95 198.92L357.00 199.11L358.05 199.31L359.10 199.51L360.16 199.72L361.21 199.92L362.26 200.14L363.31 200.36L364.36 200.58L365.42 200.81L366.47 201.04L367.52 201.28L368.57 201.52L369.62 201.77L370.68 202.02L371.73 202.28L372.78 202.54L373.83 202.81L374.88 203.08L375.94 203.37L376.99 203.65L378.04 203.95L379.09 204.25L380.14 204.55L381.20 204.86L382.25 205.18L383.30 205.51L384.35 205.84L385.40 206.18L386.46 206.53L387.51 206.89L388.56 207.25L389.61 207.62L390.66 208.00L391.72 208.39L392.77 208.79L393.82 209.19L394.87 209.61L395.92 210.03L396.98 210.47L398.03 210.91L399.08 211.36L400.13 211.83L401.18 212.30L402.24 212.78L403.29 213.28L404.34 213.79L405.39 214.30L406.44 214.83L407.50 215.38L408.55 215.93L409.60 216.50L410.65 217.08L411.70 217.67L412.76 218.28L413.81 218.90L414.86 219.54L415.91 220.19L416.96 220.86L418.02 221.54L419.07 222.24L420.12 222.95L421.17 223.68L422.22 224.43L423.28 225.20L424.33 225.99L425.38 226.80L426.43 227.62L427.48 228.47L428.54 229.34L429.59 230.23L430.64 231.14L431.69 232.07L432.74 233.03L433.80 234.01L434.85 235.02L435.90 236.06L436.95 237.12L438.00 238.21L439.06 239.33L440.11 240.47L441.16 241.65L442.21 242.86L443.26 244.11L444.32 245.38L445.37 246.70L446.42 248.05L447.47 249.44L448.52 250.87L449.58 252.34L450.63 253.85L451.68 255.41L452.73 257.02L453.78 258.68L454.84 260.38L455.89 262.14L456.94 263.96L457.99 265.84L459.04 267.78L460.10 269.78L461.15 271.85L462.20 274.00L462.46 274.54L462.72 275.09L462.98 275.64L463.24 276.19L463.25 276.22L463.49 276.74L463.75 277.29L464.00 277.85L464.25 278.40L464.30 278.52L464.50 278.96L464.74 279.51L464.99 280.07L465.23 280.63L465.36 280.91L465.47 281.19L465.71 281.75L465.95 282.31L466.19 282.87L466.41 283.40L466.42 283.43L466.66 283.99L466.89 284.56L467.12 285.12L467.35 285.69L467.46 285.98L467.57 286.26L467.80 286.82L468.02 287.39L468.24 287.96L468.46 288.53L468.51 288.66L468.68 289.10L468.90 289.68L469.11 290.25L469.33 290.82L469.54 291.39L469.56 291.46L469.75 291.97L469.96 292.54L470.17 293.12L470.37 293.69L470.58 294.27L470.62 294.38L470.78 294.85L470.98 295.43L471.18 296.00L471.38 296.58L471.58 297.16L471.67 297.43L471.77 297.74L471.97 298.32L472.16 298.90L472.35 299.48L472.54 300.06L472.72 300.63L472.73 300.65L472.91 301.23L473.10 301.81L473.28 302.39L473.46 302.98L473.64 303.56L473.77 303.98L473.82 304.14L474.00 304.73L474.18 305.31L474.35 305.90L474.52 306.48L474.69 307.06L474.82 307.51L474.87 307.65L475.03 308.23L475.20 308.82L475.37 309.40L475.53 309.99L475.70 310.58L475.86 311.16L475.88 311.22L476.02 311.75L476.18 312.33L476.34 312.92L476.49 313.50L476.65 314.09L476.80 314.67L476.93 315.15L476.95 315.26L477.11 315.84L477.26 316.43L477.40 317.01L477.55 317.60L477.70 318.18L477.84 318.77L477.98 319.33L477.99 319.35L478.13 319.93L478.27 320.52L478.41 321.10L478.55 321.68L478.68 322.27L478.82 322.85L478.95 323.43L479.03 323.77L479.09 324.01L479.22 324.59L479.35 325.17L479.48 325.75L479.61 326.33L479.73 326.91L479.86 327.49L479.98 328.07L480.08 328.54L480.11 328.65L480.23 329.23L480.35 329.80L480.47 330.38L480.59 330.95L480.71 331.53L480.82 332.10L480.94 332.68L481.05 333.25L481.14 333.67L481.17 333.82L481.28 334.39L481.39 334.97L481.50 335.54L481.61 336.10L481.71 336.67L481.82 337.24L481.92 337.81L482.03 338.37L482.13 338.94L482.19 339.26L482.23 339.50L482.33 340.07L482.43 340.63L482.53 341.19L482.63 341.75L482.72 342.31L482.82 342.87L482.91 343.43L483.01 343.98L483.10 344.54L483.19 345.09L483.24 345.40L483.28 345.64L483.37 346.20L483.46 346.75L483.54 347.30L483.63 347.84L483.71 348.39L483.80 348.94L483.88 349.48L483.96 350.02L484.04 350.57L484.12 351.11L484.20 351.64L484.28 352.18L484.29 352.26L484.36 352.72L484.43 353.25L484.51 353.79L484.58 354.32L484.66 354.85L484.73 355.38L484.80 355.91L484.87 356.43L484.94 356.96L485.01 357.48L485.08 358.00L485.15 358.52L485.21 359.04L485.28 359.55L485.34 360.07L485.34 360.08L485.41 360.58L485.47 361.09L485.53 361.60L485.59 362.11L485.65 362.61L485.71 363.12L485.77 363.62L485.83 364.12L485.88 364.61L485.94 365.11L486.00 365.60L486.05 366.09L486.10 366.58L486.16 367.07L486.21 367.56L486.26 368.04L486.31 368.52L486.36 369.00L486.40 369.35L486.41 369.48L486.46 369.95L486.50 370.42L486.55 370.89L486.60 371.36L486.64 371.83L486.69 372.29L486.73 372.75L486.77 373.21L486.82 373.66L486.86 374.11L486.90 374.56L486.94 375.01L486.98 375.46L487.02 375.90L487.06 376.34L487.09 376.77L487.13 377.21L487.17 377.64L487.20 378.07L487.24 378.49L487.27 378.91L487.31 379.33L487.34 379.75L487.37 380.16L487.40 380.57L487.44 380.98L487.45 381.14L487.47 381.38L487.50 381.79L487.53 382.18L487.55 382.58L487.58 382.97L487.61 383.36L487.64 383.74L487.66 384.12L487.69 384.50L487.72 384.87L487.74 385.24L487.77 385.61L487.79 385.97L487.81 386.33L487.84 386.68L487.86 387.03L487.88 387.38L487.90 387.72L487.92 388.06L487.94 388.40L487.96 388.73L487.98 389.05L488.00 389.38L488.02 389.69L488.04 390.01L488.06 390.32L488.07 390.62L488.09 390.92L488.11 391.22L488.12 391.51L488.14 391.80L488.15 392.08L488.17 392.35L488.18 392.63L488.19 392.89L488.21 393.16L488.22 393.41L488.23 393.67L488.24 393.91L488.26 394.16L488.27 394.39L488.28 394.63L488.29 394.85L488.30 395.07L488.31 395.29L488.32 395.50L488.33 395.71L488.34 395.91L488.35 396.10L488.35 396.29L488.36 396.48L488.37 396.65L488.38 396.83L488.39 397.00L488.39 397.16L488.39 397.22L488.40 397.32L488.41 397.47L488.41 397.61L488.42 397.76L488.42 397.89L488.43 398.02L488.43 398.15L488.44 398.27L488.44 398.38L488.45 398.49L488.45 398.60L488.45 398.69L488.46 398.79L488.46 398.88L488.46 398.96L488.47 399.05L488.47 399.12L488.47 399.19L488.48 399.26L488.48 399.32L488.48 399.38L488.48 399.44L488.48 399.49L488.49 399.53L488.49 399.58L488.49 399.61L488.49 399.62L488.49 399.65L488.49 399.69L488.49 399.72L488.49 399.74L488.50 399.77L488.50 399.79L488.50 399.81L488.50 399.83L488.50 399.84L488.50 399.85L488.50 399.86L488.50 399.87L488.50 399.87L488.50 399.88L488.50 399.89L488.50 399.89L488.50 399.89L488.50 399.90L488.50 399.90L488.50 399.90L488.50 399.90L488.50 399.90L488.50 399.90L488.50 399.90L488.50 399.90L488.50 399.90L488.50 399.90L645.80 399.90"/>
<path stroke="#aaa800" stroke-dasharray="8.2 8.45" stroke-dashoffset="0.25" d="M15.10 225.52L16.15 225.52L17.20 225.52L18.26 225.52L19.31 225.52L20.36 225.52L21.41 225.52L22.46 225.52L23.52 225.52L24.57 225.52L25.62 225.52L26.67 225.52L27.72 225.52L28.78 225.52L29.83 225.53L30.88 225.53L31.93 225.53L32.98 225.53L34.04 225.53L35.09 225.53L36.14 225.53L37.19 225.53L38.24 225.53L39.30 225.53L40.35 225.53L41.40 225.53L42.45 225.53L43.50 225.53L44.56 225.53L45.61 225.53L46.66 225.53L47.71 225.53L48.76 225.53L49.82 225.53L50.87 225.53L51.92 225.53L52.97 225.54L54.02 225.54L55.08 225.54L56.13 225.54L57.18 225.54L58.23 225.54L59.28 225.54L60.34 225.54L61.39 225.54L62.44 225.54L63.49 225.54L64.54 225.54L65.60 225.54L66.65 225.54L67.70 225.54L68.75 225.55L69.80 225.55L70.86 225.55L71.91 225.55L72.96 225.55L74.01 225.55L75.06 225.55L76.12 225.55L77.17 225.55L78.22 225.55L79.27 225.55L80.32 225.55L81.38 225.56L82.43 225.56L83.48 225.56L84.53 225.56L85.58 225.56L86.64 225.56L87.69 225.56L88.74 225.56L89.79 225.56L90.84 225.57L91.90 225.57L92.95 225.57L94.00 225.57L95.05 225.57L96.10 225.57L97.16 225.57L98.21 225.57L99.26 225.58L100.31 225.58L101.36 225.58L102.42 225.58L103.47 225.58L104.52 225.58L105.57 225.58L106.62 225.59L107.68 225.59L108.73 225.59L109.78 225.59L110.83 225.59L111.88 225.59L112.94 225.60L113.99 225.60L115.04 225.60L116.09 225.60L117.14 225.60L118.20 225.61L119.25 225.61L120.30 225.61L121.35 225.61L122.40 225.61L123.46 225.62L124.51 225.62L125.56 225.62L126.61 225.62L127.66 225.63L128.72 225.63L129.77 225.63L130.82 225.63L131.87 225.64L132.92 225.64L133.98 225.64L135.03 225.64L136.08 225.65L137.13 225.65L138.18 225.65L139.24 225.65L140.29 225.66L141.34 225.66L142.39 225.66L143.44 225.67L144.50 225.67L145.55 225.67L146.60 225.68L147.65 225.68L148.70 225.68L149.76 225.69L150.81 225.69L151.86 225.70L152.91 225.70L153.96 225.70L155.02 225.71L156.07 225.71L157.12 225.71L158.17 225.72L159.22 225.72L160.28 225.73L161.33 225.73L162.38 225.74L163.43 225.74L164.48 225.75L165.54 225.75L166.59 225.76L167.64 225.76L168.69 225.77L169.74 225.77L170.80 225.78L171.85 225.78L172.90 225.79L173.95 225.79L175.00 225.80L176.06 225.81L177.11 225.81L178.16 225.82L179.21 225.82L180.26 225.83L181.32 225.84L182.37 225.84L183.42 225.85L184.47 225.86L185.52 225.86L186.58 225.87L187.63 225.88L188.68 225.89L189.73 225.89L190.78 225.90L191.84 225.91L192.89 225.92L193.94 225.93L194.99 225.93L196.04 225.94L197.10 225.95L198.15 225.96L199.20 225.97L200.25 225.98L201.30 225.99L202.36 226.00L203.41 226.01L204.46 226.02L205.51 226.03L206.56 226.04L207.62 226.05L208.67 226.06L209.72 226.07L210.77 226.08L211.82 226.10L212.88 226.11L213.93 226.12L214.98 226.13L216.03 226.15L217.08 226.16L218.14 226.17L219.19 226.19L220.24 226.20L221.29 226.21L222.34 226.23L223.40 226.24L224.45 226.26L225.50 226.27L226.55 226.29L227.60 226.30L228.66 226.32L229.71 226.34L230.76 226.35L231.81 226.37L232.86 226.39L233.92 226.41L234.97 226.42L236.02 226.44L237.07 226.46L238.12 226.48L239.18 226.50L240.23 226.52L241.28 226.54L242.33 226.56L243.38 226.58L244.44 226.60L245.49 226.63L246.54 226.65L247.59 226.67L248.64 226.70L249.70 226.72L250.75 226.74L251.80 226.77L252.85 226.80L253.90 226.82L254.96 226.85L256.01 226.88L257.06 226.90L258.11 226.93L259.16 226.96L260.22 226.99L261.27 227.02L262.32 227.05L263.37 227.08L264.42 227.11L265.48 227.15L266.53 227.18L267.58 227.21L268.63 227.25L269.68 227.28L270.74 227.32L271.79 227.36L272.84 227.39L273.89 227.43L274.94 227.47L276.00 227.51L277.05 227.55L278.10 227.59L279.15 227.64L280.20 227.68L281.26 227.72L282.31 227.77L283.36 227.81L284.41 227.86L285.46 227.91L286.52 227.96L287.57 228.01L288.62 228.06L289.67 228.11L290.72 228.16L291.78 228.22L292.83 228.27L293.88 228.33L294.93 228.39L295.98 228.44L297.04 228.50L298.09 228.56L299.14 228.63L300.18 228.69L300.19 228.69L301.21 228.75L301.24 228.76L302.22 228.82L302.30 228.82L303.21 228.88L303.35 228.89L304.18 228.94L304.40 228.96L305.14 229.01L305.45 229.03L306.07 229.07L306.50 229.10L306.99 229.13L307.56 229.17L307.90 229.20L308.61 229.25L308.78 229.26L309.65 229.32L309.66 229.32L310.50 229.39L310.71 229.40L311.33 229.45L311.76 229.48L312.15 229.51L312.82 229.56L312.95 229.57L313.73 229.63L313.87 229.64L314.49 229.69L314.92 229.73L315.24 229.75L315.96 229.81L315.97 229.81L316.67 229.87L317.02 229.90L317.37 229.93L318.04 229.99L318.08 229.99L318.70 230.05L319.13 230.08L319.34 230.10L319.96 230.16L320.18 230.18L320.57 230.21L321.15 230.27L321.23 230.27L321.72 230.32L322.28 230.37L322.28 230.37L322.81 230.42L323.33 230.47L323.34 230.47L323.83 230.52L324.31 230.56L324.39 230.57L324.77 230.61L325.22 230.65L325.44 230.67L325.65 230.70L326.06 230.74L326.46 230.78L326.49 230.78L326.83 230.81L327.19 230.85L327.54 230.89L327.54 230.89L327.86 230.92L328.17 230.95L328.46 230.98L328.60 231.00L328.73 231.01L328.98 231.04L329.22 231.06L329.44 231.09L329.64 231.11L329.65 231.11L329.82 231.13L329.99 231.15L330.14 231.16L330.27 231.18L330.38 231.19L330.48 231.20L330.56 231.21L330.62 231.22L330.66 231.22L330.69 231.22L330.70 231.22"/>
<path stroke="#aaa800" stroke-dasharray="8.2 8.45" stroke-dashoffset="0" d="M330.70 231.22L331.75 231.34L332.80 231.46L333.86 231.58L334.91 231.71L335.96 231.83L337.01 231.96L338.06 232.10L339.12 232.23L340.17 232.37L341.22 232.51L342.27 232.65L343.32 232.80L344.38 232.95L345.43 233.10L346.48 233.26L347.53 233.42L348.58 233.58L349.64 233.75L350.69 233.92L351.74 234.09L352.79 234.27L353.84 234.45L354.90 234.63L355.95 234.82L357.00 235.01L358.05 235.21L359.10 235.41L360.16 235.62L361.21 235.82L362.26 236.04L363.31 236.26L364.36 236.48L365.42 236.71L366.47 236.94L367.52 237.18L368.57 237.42L369.62 237.67L370.68 237.92L371.73 238.18L372.78 238.44L373.83 238.71L374.88 238.98L375.94 239.27L376.99 239.55L378.04 239.85L379.09 240.15L380.14 240.45L381.20 240.76L382.25 241.08L383.30 241.41L384.35 241.74L385.40 242.08L386.46 242.43L387.51 242.79L388.56 243.15L389.61 243.52L390.66 243.90L391.72 244.29L392.77 244.69L393.82 245.09L394.87 245.51L395.92 245.93L396.98 246.37L398.03 246.81L399.08 247.26L400.13 247.73L401.18 248.20L402.24 248.68L403.29 249.18L404.34 249.69L405.39 250.20L406.44 250.73L407.50 251.28L408.55 251.83L409.60 252.40L410.65 252.98L411.70 253.57L412.76 254.18L413.81 254.80L414.86 255.44L415.91 256.09L416.96 256.76L418.02 257.44L419.07 258.14L420.12 258.85L421.17 259.58L422.22 260.33L423.28 261.10L424.33 261.89L425.38 262.70L426.43 263.52L427.48 264.37L428.54 265.24L429.59 266.13L430.64 267.04L431.69 267.97L432.74 268.93L433.80 269.91L434.85 270.92L435.90 271.96L436.95 273.02L438.00 274.11L439.06 275.23L440.11 276.37L441.16 277.55L442.21 278.76L443.26 280.01L444.32 281.28L445.37 282.60L446.42 283.95L447.47 285.34L448.52 286.77L449.58 288.24L450.63 289.75L451.68 291.31L452.73 292.92L453.78 294.58L454.84 296.28L455.89 298.04L456.94 299.86L457.99 301.74L459.04 303.68L460.10 305.68L461.15 307.75L462.20 309.90L462.46 310.44L462.72 310.99L462.98 311.54L463.24 312.09L463.25 312.12L463.49 312.64L463.75 313.19L464.00 313.75L464.25 314.30L464.30 314.42L464.50 314.86L464.74 315.41L464.99 315.97L465.23 316.53L465.36 316.81L465.47 317.09L465.71 317.65L465.95 318.21L466.19 318.77L466.41 319.30L466.42 319.33L466.66 319.89L466.89 320.46L467.12 321.02L467.35 321.59L467.46 321.88L467.57 322.16L467.80 322.72L468.02 323.29L468.24 323.86L468.46 324.43L468.51 324.56L468.68 325.00L468.90 325.58L469.11 326.15L469.33 326.72L469.54 327.29L469.56 327.36L469.75 327.87L469.96 328.44L470.17 329.02L470.37 329.59L470.58 330.17L470.62 330.28L470.78 330.75L470.98 331.33L471.18 331.90L471.38 332.48L471.58 333.06L471.67 333.33L471.77 333.64L471.97 334.22L472.16 334.80L472.35 335.38L472.54 335.96L472.72 336.53L472.73 336.55L472.91 337.13L473.10 337.71L473.28 338.29L473.46 338.88L473.64 339.46L473.77 339.88L473.82 340.04L474.00 340.63L474.18 341.21L474.35 341.80L474.52 342.38L474.69 342.96L474.82 343.41L474.87 343.55L475.03 344.13L475.20 344.72L475.37 345.30L475.53 345.89L475.70 346.48L475.86 347.06L475.88 347.12L476.02 347.65L476.18 348.23L476.34 348.82L476.49 349.40L476.65 349.99L476.80 350.57L476.93 351.05L476.95 351.16L477.11 351.74L477.26 352.33L477.40 352.91L477.55 353.50L477.70 354.08L477.84 354.67L477.98 355.23L477.99 355.25L478.13 355.83L478.27 356.42L478.41 357.00L478.55 357.58L478.68 358.17L478.82 358.75L478.95 359.33L479.03 359.67L479.09 359.91L479.22 360.49L479.35 361.07L479.48 361.65L479.61 362.23L479.73 362.81L479.86 363.39L479.98 363.97L480.08 364.44L480.11 364.55L480.23 365.13L480.35 365.70L480.47 366.28L480.59 366.85L480.71 367.43L480.82 368.00L480.94 368.58L481.05 369.15L481.14 369.57L481.17 369.72L481.28 370.29L481.39 370.87L481.50 371.44L481.61 372.00L481.71 372.57L481.82 373.14L481.92 373.71L482.03 374.27L482.13 374.84L482.19 375.16L482.23 375.40L482.33 375.97L482.43 376.53L482.53 377.09L482.63 377.65L482.72 378.21L482.82 378.77L482.91 379.33L483.01 379.88L483.10 380.44L483.19 380.99L483.24 381.30L483.28 381.54L483.37 382.10L483.46 382.65L483.54 383.20L483.63 383.74L483.71 384.29L483.80 384.84L483.88 385.38L483.96 385.92L484.04 386.47L484.12 387.01L484.20 387.54L484.28 388.08L484.29 388.16L484.36 388.62L484.43 389.15L484.51 389.69L484.58 390.22L484.66 390.75L484.73 391.28L484.80 391.81L484.87 392.33L484.94 392.86L485.01 393.38L485.08 393.90L485.15 394.42L485.21 394.94L485.28 395.45L485.34 395.97L485.34 395.98L485.41 396.48L485.47 396.99L485.53 397.50L485.59 398.01L485.65 398.51L485.71 399.02L485.77 399.52L485.83 400.02L485.88 400.51L485.94 401.01L486.00 401.50L486.05 401.99L486.10 402.48L486.16 402.97L486.21 403.46L486.26 403.94L486.31 404.42L486.36 404.90L486.40 405.25L486.41 405.38L486.46 405.85L486.50 406.32L486.55 406.79L486.60 407.26L486.64 407.73L486.69 408.19L486.73 408.65L486.77 409.11L486.82 409.56L486.86 410.01L486.90 410.46L486.94 410.91L486.98 411.36L487.02 411.80L487.06 412.24L487.09 412.67L487.13 413.11L487.17 413.54L487.20 413.97L487.24 414.39L487.27 414.81L487.31 415.23L487.34 415.65L487.37 416.06L487.40 416.47L487.44 416.88L487.45 417.04L487.47 417.28L487.50 417.69L487.53 418.08L487.55 418.48L487.58 418.87L487.61 419.26L487.64 419.64L487.66 420.02L487.69 420.40L487.72 420.77L487.74 421.14L487.77 421.51L487.79 421.87L487.81 422.23L487.84 422.58L487.86 422.93L487.88 423.28L487.90 423.62L487.92 423.96L487.94 424.30L487.96 424.63L487.98 424.95L488.00 425.28L488.02 425.59L488.04 425.91L488.06 426.22L488.07 426.52L488.09 426.82L488.11 427.12L488.12 427.41L488.14 427.70L488.15 427.98L488.17 428.25L488.18 428.53L488.19 428.79L488.21 429.06L488.22 429.31L488.23 429.57L488.24 429.81L488.26 430.06L488.27 430.29L488.28 430.53L488.29 430.75L488.30 430.97L488.31 431.19L488.32 431.40L488.33 431.61L488.34 431.81L488.35 432.00L488.35 432.19L488.36 432.38L488.37 432.55L488.38 432.73L488.39 432.90L488.39 433.06L488.39 433.12L488.40 433.22L488.41 433.37L488.41 433.51L488.42 433.66L488.42 433.79L488.43 433.92L488.43 434.05L488.44 434.17L488.44 434.28L488.45 434.39L488.45 434.50L488.45 434.59L488.46 434.69L488.46 434.78L488.46 434.86L488.47 434.95L488.47 435.02L488.47 435.09L488.48 435.16L488.48 435.22L488.48 435.28L488.48 435.34L488.48 435.39L488.49 435.43L488.49 435.48L488.49 435.51L488.49 435.52L488.49 435.55L488.49 435.59L488.49 435.62L488.49 435.64L488.50 435.67L488.50 435.69L488.50 435.71L488.50 435.73L488.50 435.74L488.50 435.75L488.50 435.76L488.50 435.77L488.50 435.77L488.50 435.78L488.50 435.79L488.50 435.79L488.50 435.79L488.50 435.80L488.50 435.80L488.50 435.80L488.50 435.80L488.50 435.80L488.50 435.80L488.50 435.80L488.50 435.80L488.50 435.80L488.50 435.80"/>
<path stroke="#aaa800" stroke-dasharray="8.2 8.45" stroke-dashoffset="0" d="M488.50 435.80L489.55 435.80L490.60 435.80L491.66 435.80L492.71 435.80L493.76 435.80L494.81 435.80L495.86 435.80L496.92 435.80L497.97 435.80L499.02 435.80L500.07 435.80L501.12 435.80L502.18 435.80L503.23 435.80L504.28 435.80L505.33 435.80L506.38 435.80L507.44 435.80L508.49 435.80L509.54 435.80L510.59 435.80L511.64 435.80L512.70 435.80L513.75 435.80L514.80 435.80L515.85 435.80L516.90 435.80L517.96 435.80L519.01 435.80L520.06 435.80L521.11 435.80L522.16 435.80L523.22 435.80L524.27 435.80L525.32 435.80L526.37 435.80L527.42 435.80L528.48 435.80L529.53 435.80L530.58 435.80L531.63 435.80L532.68 435.80L533.74 435.80L534.79 435.80L535.84 435.80L536.89 435.80L537.94 435.80L539.00 435.80L540.05 435.80L541.10 435.80L542.15 435.80L543.20 435.80L544.26 435.80L545.31 435.80L546.36 435.80L547.41 435.80L548.46 435.80L549.52 435.80L550.57 435.80L551.62 435.80L552.67 435.80L553.72 435.80L554.78 435.80L555.83 435.80L556.88 435.80L557.93 435.80L558.98 435.80L560.04 435.80L561.09 435.80L562.14 435.80L563.19 435.80L564.24 435.80L565.30 435.80L566.35 435.80L567.40 435.80L568.45 435.80L569.50 435.80L570.56 435.80L571.61 435.80L572.66 435.80L573.71 435.80L574.76 435.80L575.82 435.80L576.87 435.80L577.92 435.80L578.97 435.80L580.02 435.80L581.08 435.80L582.13 435.80L583.18 435.80L584.23 435.80L585.28 435.80L586.34 435.80L587.39 435.80L588.44 435.80L589.49 435.80L590.54 435.80L591.60 435.80L592.65 435.80L593.70 435.80L594.75 435.80L595.80 435.80L596.86 435.80L597.91 435.80L598.96 435.80L600.01 435.80L601.06 435.80L602.12 435.80L603.17 435.80L604.22 435.80L605.27 435.80L606.32 435.80L607.38 435.80L608.43 435.80L609.48 435.80L610.53 435.80L611.58 435.80L612.64 435.80L613.69 435.80L614.74 435.80L615.79 435.80L616.84 435.80L617.90 435.80L618.95 435.80L620.00 435.80L621.05 435.80L622.10 435.80L623.16 435.80L624.21 435.80L625.26 435.80L626.31 435.80L627.36 435.80L628.42 435.80L629.47 435.80L630.52 435.80L631.57 435.80L632.62 435.80L633.68 435.80L634.73 435.80L635.78 435.80L636.83 435.80L637.88 435.80L638.94 435.80L639.99 435.80L641.04 435.80L642.09 435.80L643.14 435.80L644.20 435.80L645.25 435.80L646.30 435.80"/>
<path stroke="#a80404" d="M15.10 78.13L16.15 78.12L17.20 78.12L18.26 78.12L19.31 78.12L20.36 78.12L21.41 78.12L22.46 78.12L23.52 78.12L24.57 78.12L25.62 78.11L26.67 78.11L27.72 78.11L28.78 78.11L29.83 78.11L30.88 78.11L31.93 78.11L32.98 78.10L34.04 78.10L35.09 78.10L36.14 78.10L37.19 78.10L38.24 78.10L39.30 78.10L40.35 78.09L41.40 78.09L42.45 78.09L43.50 78.09L44.56 78.09L45.61 78.09L46.66 78.08L47.71 78.08L48.76 78.08L49.82 78.08L50.87 78.08L51.92 78.07L52.97 78.07L54.02 78.07L55.08 78.07L56.13 78.07L57.18 78.06L58.23 78.06L59.28 78.06L60.34 78.06L61.39 78.05L62.44 78.05L63.49 78.05L64.54 78.05L65.60 78.04L66.65 78.04L67.70 78.04L68.75 78.04L69.80 78.03L70.86 78.03L71.91 78.03L72.96 78.02L74.01 78.02L75.06 78.02L76.12 78.01L77.17 78.01L78.22 78.01L79.27 78.00L80.32 78.00L81.38 78.00L82.43 77.99L83.48 77.99L84.53 77.99L85.58 77.98L86.64 77.98L87.69 77.97L88.74 77.97L89.79 77.97L90.84 77.96L91.90 77.96L92.95 77.95L94.00 77.95L95.05 77.94L96.10 77.94L97.16 77.93L98.21 77.93L99.26 77.92L100.31 77.92L101.36 77.91L102.42 77.91L103.47 77.90L104.52 77.90L105.57 77.89L106.62 77.89L107.68 77.88L108.73 77.87L109.78 77.87L110.83 77.86L111.88 77.86L112.94 77.85L113.99 77.84L115.04 77.84L116.09 77.83L117.14 77.82L118.20 77.81L119.25 77.81L120.30 77.80L121.35 77.79L122.40 77.78L123.46 77.78L124.51 77.77L125.56 77.76L126.61 77.75L127.66 77.74L128.72 77.73L129.77 77.72L130.82 77.72L131.87 77.71L132.92 77.70L133.98 77.69L135.03 77.68L136.08 77.67L137.13 77.66L138.18 77.65L139.24 77.63L140.29 77.62L141.34 77.61L142.39 77.60L143.44 77.59L144.50 77.58L145.55 77.56L146.60 77.55L147.65 77.54L148.70 77.53L149.76 77.51L150.81 77.50L151.86 77.49L152.91 77.47L153.96 77.46L155.02 77.44L156.07 77.43L157.12 77.41L158.17 77.40L159.22 77.38L160.28 77.37L161.33 77.35L162.38 77.33L163.43 77.31L164.48 77.30L165.54 77.28L166.59 77.26L167.64 77.24L168.69 77.22L169.74 77.20L170.80 77.18L171.85 77.16L172.90 77.14L173.95 77.12L175.00 77.10L176.06 77.08L177.11 77.05L178.16 77.03L179.21 77.01L180.26 76.98L181.32 76.96L182.37 76.94L183.42 76.91L184.47 76.88L185.52 76.86L186.58 76.83L187.63 76.80L188.68 76.77L189.73 76.75L190.78 76.72L191.84 76.69L192.89 76.65L193.94 76.62L194.99 76.59L196.04 76.56L197.10 76.53L198.15 76.49L199.20 76.46L200.25 76.42L201.30 76.38L202.36 76.35L203.41 76.31L204.46 76.27L205.51 76.23L206.56 76.19L207.62 76.15L208.67 76.11L209.72 76.07L210.77 76.02L211.82 75.98L212.88 75.93L213.93 75.88L214.98 75.84L216.03 75.79L217.08 75.74L218.14 75.69L219.19 75.63L220.24 75.58L221.29 75.53L222.34 75.47L223.40 75.42L224.45 75.36L225.50 75.30L226.55 75.24L227.60 75.18L228.66 75.11L229.71 75.05L230.76 74.98L231.81 74.92L232.86 74.85L233.92 74.78L234.97 74.70L236.02 74.63L237.07 74.56L238.12 74.48L239.18 74.40L240.23 74.32L241.28 74.24L242.33 74.15L243.38 74.07L244.44 73.98L245.49 73.89L246.54 73.80L247.59 73.71L248.64 73.61L249.70 73.51L250.75 73.41L251.80 73.31L252.85 73.20L253.90 73.10L254.96 72.99L256.01 72.87L257.06 72.76L258.11 72.64L259.16 72.52L260.22 72.39L261.27 72.27L262.32 72.14L263.37 72.01L264.42 71.87L265.48 71.73L266.53 71.59L267.58 71.44L268.63 71.29L269.68 71.14L270.74 70.98L271.79 70.82L272.84 70.66L273.89 70.49L274.94 70.31L276.00 70.14L277.05 69.95L278.10 69.77L279.15 69.58L280.20 69.38L281.26 69.18L282.31 68.97L283.36 68.76L284.41 68.54L285.46 68.31L286.52 68.08L287.57 67.85L288.62 67.60L289.67 67.35L290.72 67.10L291.78 66.83L292.83 66.56L293.88 66.28L294.93 65.99L295.98 65.70L297.04 65.39L298.09 65.08L299.14 64.75L300.18 64.42L300.19 64.42L301.21 64.09L301.24 64.07L302.22 63.74L302.30 63.72L303.21 63.40L303.35 63.35L304.18 63.05L304.40 62.97L305.14 62.70L305.45 62.58L306.07 62.34L306.50 62.17L306.99 61.98L307.56 61.75L307.90 61.61L308.61 61.32L308.78 61.24L309.65 60.87L309.66 60.87L310.50 60.50L310.71 60.40L311.33 60.12L311.76 59.92L312.15 59.73L312.82 59.41L312.95 59.35L313.73 58.96L313.87 58.89L314.49 58.57L314.92 58.35L315.24 58.18L315.96 57.78L315.97 57.78L316.67 57.39L317.02 57.19L317.37 56.99L318.04 56.59L318.08 56.57L318.70 56.19L319.13 55.92L319.34 55.79L319.96 55.39L320.18 55.24L320.57 54.99L321.15 54.59L321.23 54.53L321.72 54.19L322.28 53.79L322.28 53.78L322.81 53.39L323.33 53.00L323.34 52.99L323.83 52.61L324.31 52.22L324.39 52.15L324.77 51.84L325.22 51.46L325.44 51.27L325.65 51.08L326.06 50.71L326.46 50.35L326.49 50.32L326.83 50.00L327.19 49.65L327.54 49.31L327.54 49.30L327.86 48.99L328.17 48.67L328.46 48.36L328.60 48.21L328.73 48.07L328.98 47.79L329.22 47.52L329.44 47.27L329.64 47.04L329.65 47.02L329.82 46.82L329.99 46.62L330.14 46.43L330.27 46.27L330.38 46.13L330.48 46.01L330.56 45.90L330.62 45.83L330.66 45.77L330.69 45.74L330.70 45.72L331.75 45.79L332.80 45.87L333.86 45.94L334.91 46.01L335.96 46.09L337.01 46.17L338.06 46.24L339.12 46.33L340.17 46.41L341.22 46.49L342.27 46.58L343.32 46.66L344.38 46.75L345.43 46.84L346.48 46.94L347.53 47.03L348.58 47.13L349.64 47.23L350.69 47.33L351.74 47.43L352.79 47.54L353.84 47.64L354.90 47.75L355.95 47.86L357.00 47.98L358.05 48.09L359.10 48.21L360.16 48.33L361.21 48.46L362.26 48.58L363.31 48.71L364.36 48.84L365.42 48.98L366.47 49.11L367.52 49.25L368.57 49.39L369.62 49.54L370.68 49.69L371.73 49.84L372.78 49.99L373.83 50.15L374.88 50.31L375.94 50.48L376.99 50.64L378.04 50.81L379.09 50.99L380.14 51.17L381.20 51.35L382.25 51.53L383.30 51.72L384.35 51.92L385.40 52.11L386.46 52.32L387.51 52.52L388.56 52.73L389.61 52.95L390.66 53.16L391.72 53.39L392.77 53.62L393.82 53.85L394.87 54.09L395.92 54.33L396.98 54.58L398.03 54.83L399.08 55.09L400.13 55.35L401.18 55.62L402.24 55.89L403.29 56.17L404.34 56.46L405.39 56.75L406.44 57.05L407.50 57.36L408.55 57.67L409.60 57.98L410.65 58.31L411.70 58.64L412.76 58.98L413.81 59.32L414.86 59.68L415.91 60.04L416.96 60.40L418.02 60.78L419.07 61.16L420.12 61.56L421.17 61.96L422.22 62.36L423.28 62.78L424.33 63.21L425.38 63.64L426.43 64.09L427.48 64.54L428.54 65.01L429.59 65.48L430.64 65.97L431.69 66.46L432.74 66.97L433.80 67.48L434.85 68.01L435.90 68.55L436.95 69.10L438.00 69.67L439.06 70.24L440.11 70.83L441.16 71.43L442.21 72.05L443.26 72.67L444.32 73.31L445.37 73.97L446.42 74.64L447.47 75.33L448.52 76.03L449.58 76.74L450.63 77.48L451.68 78.22L452.73 78.99L453.78 79.77L454.84 80.57L455.89 81.39L456.94 82.23L457.99 83.08L459.04 83.96L460.10 84.86L461.15 85.77L462.20 86.71L463.25 87.67L464.30 88.65L465.36 89.66L466.41 90.68L467.46 91.73L468.51 92.81L469.56 93.91L470.62 95.04L471.67 96.20L472.72 97.38L473.77 98.59L474.82 99.83L475.88 101.10L476.93 102.40L477.98 103.74L479.03 105.10L480.08 106.50L481.14 107.94L482.19 109.41L483.24 110.91L484.29 112.46L485.34 114.04L486.40 115.67L487.45 117.34L488.50 119.05L489.55 120.80L490.60 122.60L491.66 124.45L492.71 126.35L493.76 128.30L494.81 130.31L495.86 132.36L496.92 134.48L497.97 136.65L499.02 138.89L500.07 141.19L501.12 143.55L502.18 145.99L503.23 148.49L504.28 151.07L505.33 153.73L506.38 156.47L507.44 159.30L508.49 162.22L509.54 165.22L510.59 168.33L511.64 171.54L512.70 174.86L513.75 178.29L514.80 181.85L515.06 182.75L515.32 183.66L515.58 184.57L515.84 185.48L515.85 185.53L516.09 186.39L516.35 187.31L516.60 188.23L516.85 189.14L516.90 189.35L517.10 190.06L517.34 190.98L517.59 191.91L517.83 192.83L517.96 193.31L518.07 193.76L518.31 194.69L518.55 195.62L518.79 196.55L519.01 197.43L519.02 197.48L519.26 198.42L519.49 199.35L519.72 200.29L519.95 201.23L520.06 201.70L520.17 202.17L520.40 203.11L520.62 204.05L520.84 205.00L521.06 205.94L521.11 206.16L521.28 206.89L521.50 207.84L521.71 208.79L521.93 209.74L522.14 210.69L522.16 210.80L522.35 211.64L522.56 212.60L522.77 213.55L522.97 214.51L523.18 215.47L523.22 215.65L523.38 216.42L523.58 217.38L523.78 218.34L523.98 219.30L524.18 220.26L524.27 220.72L524.37 221.23L524.57 222.19L524.76 223.15L524.95 224.12L525.14 225.09L525.32 226.02L525.33 226.05L525.51 227.02L525.70 227.99L525.88 228.95L526.06 229.92L526.24 230.89L526.37 231.59L526.42 231.86L526.60 232.83L526.78 233.80L526.95 234.77L527.12 235.75L527.29 236.72L527.42 237.45L527.47 237.69L527.63 238.66L527.80 239.64L527.97 240.61L528.13 241.58L528.30 242.56L528.46 243.53L528.48 243.64L528.62 244.50L528.78 245.48L528.94 246.45L529.09 247.43L529.25 248.40L529.40 249.37L529.53 250.18L529.55 250.35L529.71 251.32L529.86 252.30L530.00 253.27L530.15 254.24L530.30 255.22L530.44 256.19L530.58 257.12L530.59 257.16L530.73 258.14L530.87 259.11L531.01 260.08L531.15 261.05L531.28 262.03L531.42 263.00L531.55 263.97L531.63 264.54L531.69 264.94L531.82 265.91L531.95 266.88L532.08 267.84L532.21 268.81L532.33 269.78L532.46 270.75L532.58 271.71L532.68 272.49L532.71 272.68L532.83 273.64L532.95 274.60L533.07 275.57L533.19 276.53L533.31 277.49L533.42 278.45L533.54 279.41L533.65 280.37L533.74 281.07L533.77 281.33L533.88 282.28L533.99 283.24L534.10 284.19L534.21 285.14L534.31 286.10L534.42 287.05L534.52 288.00L534.63 288.95L534.73 289.89L534.79 290.43L534.83 290.84L534.93 291.78L535.03 292.73L535.13 293.67L535.23 294.61L535.32 295.55L535.42 296.49L535.51 297.42L535.61 298.36L535.70 299.29L535.79 300.22L535.84 300.74L535.88 301.15L535.97 302.08L536.06 303.00L536.14 303.93L536.23 304.85L536.31 305.77L536.40 306.69L536.48 307.61L536.56 308.53L536.64 309.44L536.72 310.35L536.80 311.26L536.88 312.17L536.89 312.29L536.96 313.08L537.03 313.98L537.11 314.88L537.18 315.78L537.26 316.68L537.33 317.58L537.40 318.47L537.47 319.36L537.54 320.25L537.61 321.14L537.68 322.02L537.75 322.90L537.81 323.78L537.88 324.66L537.94 325.53L537.94 325.56L538.01 326.41L538.07 327.28L538.13 328.14L538.19 329.01L538.25 329.87L538.31 330.73L538.37 331.59L538.43 332.44L538.48 333.29L538.54 334.14L538.60 334.99L538.65 335.83L538.70 336.67L538.76 337.51L538.81 338.34L538.86 339.17L538.91 340.00L538.96 340.82L539.00 341.43L539.01 341.65L539.06 342.46L539.10 343.28L539.15 344.09L539.20 344.90L539.24 345.71L539.29 346.51L539.33 347.31L539.37 348.11L539.42 348.90L539.46 349.69L539.50 350.47L539.54 351.25L539.58 352.03L539.62 352.81L539.66 353.58L539.69 354.35L539.73 355.11L539.77 355.87L539.80 356.62L539.84 357.38L539.87 358.12L539.91 358.87L539.94 359.61L539.97 360.34L540.00 361.07L540.04 361.80L540.05 362.09L540.07 362.52L540.10 363.24L540.13 363.96L540.15 364.67L540.18 365.37L540.21 366.07L540.24 366.77L540.26 367.46L540.29 368.15L540.32 368.83L540.34 369.51L540.37 370.18L540.39 370.85L540.41 371.51L540.44 372.17L540.46 372.82L540.48 373.46L540.50 374.10L540.52 374.74L540.54 375.37L540.56 375.99L540.58 376.61L540.60 377.23L540.62 377.83L540.64 378.43L540.66 379.03L540.67 379.62L540.69 380.20L540.71 380.78L540.72 381.35L540.74 381.91L540.75 382.47L540.77 383.02L540.78 383.56L540.79 384.10L540.81 384.63L540.82 385.15L540.83 385.66L540.84 386.17L540.86 386.67L540.87 387.16L540.88 387.64L540.89 388.12L540.90 388.58L540.91 389.04L540.92 389.49L540.93 389.94L540.94 390.37L540.95 390.79L540.95 391.21L540.96 391.62L540.97 392.01L540.98 392.40L540.99 392.78L540.99 393.15L540.99 393.29L541.00 393.51L541.01 393.86L541.01 394.20L541.02 394.53L541.02 394.84L541.03 395.15L541.03 395.45L541.04 395.74L541.04 396.02L541.05 396.28L541.05 396.54L541.05 396.78L541.06 397.02L541.06 397.24L541.06 397.46L541.07 397.66L541.07 397.85L541.07 398.04L541.08 398.21L541.08 398.37L541.08 398.52L541.08 398.67L541.08 398.80L541.09 398.92L541.09 399.04L541.09 399.13L541.09 399.14L541.09 399.24L541.09 399.33L541.09 399.41L541.09 399.48L541.10 399.55L541.10 399.61L541.10 399.66L541.10 399.70L541.10 399.74L541.10 399.77L541.10 399.80L541.10 399.82L541.10 399.83L541.10 399.85L541.10 399.86L541.10 399.87L541.10 399.88L541.10 399.89L541.10 399.89L541.10 399.90L541.10 399.90L541.10 399.90L541.10 399.90L541.10 399.90L541.10 399.90L541.10 399.90L541.10 399.90L646.30 399.90"/>
<path stroke="#a80404" stroke-dasharray="8.2 8.45" stroke-dashoffset="0.25" d="M15.10 78.18L16.15 78.19L17.20 78.19L18.26 78.19L19.31 78.19L20.36 78.19L21.41 78.19L22.46 78.19L23.52 78.19L24.57 78.19L25.62 78.19L26.67 78.19L27.72 78.19L28.78 78.19L29.83 78.19L30.88 78.19L31.93 78.19L32.98 78.19L34.04 78.19L35.09 78.19L36.14 78.19L37.19 78.19L38.24 78.19L39.30 78.19L40.35 78.19L41.40 78.19L42.45 78.19L43.50 78.19L44.56 78.19L45.61 78.19L46.66 78.19L47.71 78.19L48.76 78.19L49.82 78.19L50.87 78.19L51.92 78.19L52.97 78.19L54.02 78.19L55.08 78.19L56.13 78.20L57.18 78.20L58.23 78.20L59.28 78.20L60.34 78.20L61.39 78.20L62.44 78.20L63.49 78.20L64.54 78.20L65.60 78.20L66.65 78.20L67.70 78.20L68.75 78.20L69.80 78.20L70.86 78.20L71.91 78.20L72.96 78.20L74.01 78.20L75.06 78.20L76.12 78.20L77.17 78.20L78.22 78.20L79.27 78.21L80.32 78.21L81.38 78.21L82.43 78.21L83.48 78.21L84.53 78.21L85.58 78.21L86.64 78.21L87.69 78.21L88.74 78.21L89.79 78.21L90.84 78.21L91.90 78.21L92.95 78.21L94.00 78.21L95.05 78.22L96.10 78.22L97.16 78.22L98.21 78.22L99.26 78.22L100.31 78.22L101.36 78.22L102.42 78.22L103.47 78.22L104.52 78.22L105.57 78.22L106.62 78.22L107.68 78.23L108.73 78.23L109.78 78.23L110.83 78.23L111.88 78.23L112.94 78.23L113.99 78.23L115.04 78.23L116.09 78.23L117.14 78.24L118.20 78.24L119.25 78.24L120.30 78.24L121.35 78.24L122.40 78.24L123.46 78.24L124.51 78.24L125.56 78.25L126.61 78.25L127.66 78.25L128.72 78.25L129.77 78.25L130.82 78.25L131.87 78.25L132.92 78.26L133.98 78.26L135.03 78.26L136.08 78.26L137.13 78.26L138.18 78.26L139.24 78.27L140.29 78.27L141.34 78.27L142.39 78.27L143.44 78.27L144.50 78.28L145.55 78.28L146.60 78.28L147.65 78.28L148.70 78.28L149.76 78.29L150.81 78.29L151.86 78.29L152.91 78.29L153.96 78.30L155.02 78.30L156.07 78.30L157.12 78.30L158.17 78.31L159.22 78.31L160.28 78.31L161.33 78.31L162.38 78.32L163.43 78.32L164.48 78.32L165.54 78.33L166.59 78.33L167.64 78.33L168.69 78.33L169.74 78.34L170.80 78.34L171.85 78.34L172.90 78.35L173.95 78.35L175.00 78.35L176.06 78.36L177.11 78.36L178.16 78.37L179.21 78.37L180.26 78.37L181.32 78.38L182.37 78.38L183.42 78.39L184.47 78.39L185.52 78.39L186.58 78.40L187.63 78.40L188.68 78.41L189.73 78.41L190.78 78.42L191.84 78.42L192.89 78.43L193.94 78.43L194.99 78.44L196.04 78.44L197.10 78.45L198.15 78.45L199.20 78.46L200.25 78.46L201.30 78.47L202.36 78.48L203.41 78.48L204.46 78.49L205.51 78.49L206.56 78.50L207.62 78.51L208.67 78.51L209.72 78.52L210.77 78.53L211.82 78.53L212.88 78.54L213.93 78.55L214.98 78.56L216.03 78.56L217.08 78.57L218.14 78.58L219.19 78.59L220.24 78.60L221.29 78.61L222.34 78.61L223.40 78.62L224.45 78.63L225.50 78.64L226.55 78.65L227.60 78.66L228.66 78.67L229.71 78.68L230.76 78.69L231.81 78.70L232.86 78.71L233.92 78.72L234.97 78.73L236.02 78.74L237.07 78.76L238.12 78.77L239.18 78.78L240.23 78.79L241.28 78.80L242.33 78.82L243.38 78.83L244.44 78.84L245.49 78.86L246.54 78.87L247.59 78.88L248.64 78.90L249.70 78.91L250.75 78.93L251.80 78.94L252.85 78.96L253.90 78.97L254.96 78.99L256.01 79.01L257.06 79.02L258.11 79.04L259.16 79.06L260.22 79.08L261.27 79.09L262.32 79.11L263.37 79.13L264.42 79.15L265.48 79.17L266.53 79.19L267.58 79.21L268.63 79.23L269.68 79.25L270.74 79.28L271.79 79.30L272.84 79.32L273.89 79.34L274.94 79.37L276.00 79.39L277.05 79.42L278.10 79.44L279.15 79.47L280.20 79.49L281.26 79.52L282.31 79.55L283.36 79.57L284.41 79.60L285.46 79.63L286.52 79.66L287.57 79.69L288.62 79.72L289.67 79.75L290.72 79.78L291.78 79.82L292.83 79.85L293.88 79.88L294.93 79.92L295.98 79.95L297.04 79.99L298.09 80.03L299.14 80.06L300.18 80.10L300.19 80.10L301.21 80.14L301.24 80.14L302.22 80.18L302.30 80.18L303.21 80.22L303.35 80.22L304.18 80.25L304.40 80.26L305.14 80.29L305.45 80.31L306.07 80.33L306.50 80.35L306.99 80.37L307.56 80.39L307.90 80.41L308.61 80.44L308.78 80.45L309.65 80.48L309.66 80.48L310.50 80.52L310.71 80.53L311.33 80.56L311.76 80.58L312.15 80.60L312.82 80.63L312.95 80.63L313.73 80.67L313.87 80.68L314.49 80.71L314.92 80.73L315.24 80.74L315.96 80.78L315.97 80.78L316.67 80.81L317.02 80.83L317.37 80.85L318.04 80.88L318.08 80.89L318.70 80.92L319.13 80.94L319.34 80.95L319.96 80.98L320.18 81.00L320.57 81.02L321.15 81.05L321.23 81.05L321.72 81.08L322.28 81.11L322.28 81.11L322.81 81.14L323.33 81.17L323.34 81.17L323.83 81.20L324.31 81.23L324.39 81.23L324.77 81.26L325.22 81.28L325.44 81.29L325.65 81.31L326.06 81.33L326.46 81.36L326.49 81.36L326.83 81.38L327.19 81.40L327.54 81.42L327.54 81.42L327.86 81.44L328.17 81.46L328.46 81.48L328.60 81.49L328.73 81.50L328.98 81.51L329.22 81.53L329.44 81.54L329.64 81.55L329.65 81.56L329.82 81.57L329.99 81.58L330.14 81.59L330.27 81.60L330.38 81.60L330.48 81.61L330.56 81.61L330.62 81.62L330.66 81.62L330.69 81.62L330.70 81.62"/>
<path stroke="#a80404" stroke-dasharray="8.2 8.45" stroke-dashoffset="0" d="M330.70 81.62L331.75 81.69L332.80 81.77L333.86 81.84L334.91 81.91L335.96 81.99L337.01 82.07L338.06 82.14L339.12 82.23L340.17 82.31L341.22 82.39L342.27 82.48L343.32 82.56L344.38 82.65L345.43 82.74L346.48 82.84L347.53 82.93L348.58 83.03L349.64 83.13L350.69 83.23L351.74 83.33L352.79 83.44L353.84 83.54L354.90 83.65L355.95 83.76L357.00 83.88L358.05 83.99L359.10 84.11L360.16 84.23L361.21 84.36L362.26 84.48L363.31 84.61L364.36 84.74L365.42 84.88L366.47 85.01L367.52 85.15L368.57 85.29L369.62 85.44L370.68 85.59L371.73 85.74L372.78 85.89L373.83 86.05L374.88 86.21L375.94 86.38L376.99 86.54L378.04 86.71L379.09 86.89L380.14 87.07L381.20 87.25L382.25 87.43L383.30 87.62L384.35 87.82L385.40 88.01L386.46 88.22L387.51 88.42L388.56 88.63L389.61 88.85L390.66 89.06L391.72 89.29L392.77 89.52L393.82 89.75L394.87 89.99L395.92 90.23L396.98 90.48L398.03 90.73L399.08 90.99L400.13 91.25L401.18 91.52L402.24 91.79L403.29 92.07L404.34 92.36L405.39 92.65L406.44 92.95L407.50 93.26L408.55 93.57L409.60 93.88L410.65 94.21L411.70 94.54L412.76 94.88L413.81 95.22L414.86 95.58L415.91 95.94L416.96 96.30L418.02 96.68L419.07 97.06L420.12 97.46L421.17 97.86L422.22 98.26L423.28 98.68L424.33 99.11L425.38 99.54L426.43 99.99L427.48 100.44L428.54 100.91L429.59 101.38L430.64 101.87L431.69 102.36L432.74 102.87L433.80 103.38L434.85 103.91L435.90 104.45L436.95 105.00L438.00 105.57L439.06 106.14L440.11 106.73L441.16 107.33L442.21 107.95L443.26 108.57L444.32 109.21L445.37 109.87L446.42 110.54L447.47 111.23L448.52 111.93L449.58 112.64L450.63 113.38L451.68 114.12L452.73 114.89L453.78 115.67L454.84 116.47L455.89 117.29L456.94 118.13L457.99 118.98L459.04 119.86L460.10 120.76L461.15 121.67L462.20 122.61L463.25 123.57L464.30 124.55L465.36 125.56L466.41 126.58L467.46 127.63L468.51 128.71L469.56 129.81L470.62 130.94L471.67 132.10L472.72 133.28L473.77 134.49L474.82 135.73L475.88 137.00L476.93 138.30L477.98 139.64L479.03 141.00L480.08 142.40L481.14 143.84L482.19 145.31L483.24 146.81L484.29 148.36L485.34 149.94L486.40 151.57L487.45 153.24L488.50 154.95L489.55 156.70L490.60 158.50L491.66 160.35L492.71 162.25L493.76 164.20L494.81 166.21L495.86 168.26L496.92 170.38L497.97 172.55L499.02 174.79L500.07 177.09L501.12 179.45L502.18 181.89L503.23 184.39L504.28 186.97L505.33 189.63L506.38 192.37L507.44 195.20L508.49 198.12L509.54 201.12L510.59 204.23L511.64 207.44L512.70 210.76L513.75 214.19L514.80 217.75L515.06 218.65L515.32 219.56L515.58 220.47L515.84 221.38L515.85 221.43L516.09 222.29L516.35 223.21L516.60 224.13L516.85 225.04L516.90 225.25L517.10 225.96L517.34 226.88L517.59 227.81L517.83 228.73L517.96 229.21L518.07 229.66L518.31 230.59L518.55 231.52L518.79 232.45L519.01 233.33L519.02 233.38L519.26 234.32L519.49 235.25L519.72 236.19L519.95 237.13L520.06 237.60L520.17 238.07L520.40 239.01L520.62 239.95L520.84 240.90L521.06 241.84L521.11 242.06L521.28 242.79L521.50 243.74L521.71 244.69L521.93 245.64L522.14 246.59L522.16 246.70L522.35 247.54L522.56 248.50L522.77 249.45L522.97 250.41L523.18 251.37L523.22 251.55L523.38 252.32L523.58 253.28L523.78 254.24L523.98 255.20L524.18 256.16L524.27 256.62L524.37 257.13L524.57 258.09L524.76 259.05L524.95 260.02L525.14 260.99L525.32 261.92L525.33 261.95L525.51 262.92L525.70 263.89L525.88 264.85L526.06 265.82L526.24 266.79L526.37 267.49L526.42 267.76L526.60 268.73L526.78 269.70L526.95 270.67L527.12 271.65L527.29 272.62L527.42 273.35L527.47 273.59L527.63 274.56L527.80 275.54L527.97 276.51L528.13 277.48L528.30 278.46L528.46 279.43L528.48 279.54L528.62 280.40L528.78 281.38L528.94 282.35L529.09 283.33L529.25 284.30L529.40 285.27L529.53 286.08L529.55 286.25L529.71 287.22L529.86 288.20L530.00 289.17L530.15 290.14L530.30 291.12L530.44 292.09L530.58 293.02L530.59 293.06L530.73 294.04L530.87 295.01L531.01 295.98L531.15 296.95L531.28 297.93L531.42 298.90L531.55 299.87L531.63 300.44L531.69 300.84L531.82 301.81L531.95 302.78L532.08 303.74L532.21 304.71L532.33 305.68L532.46 306.65L532.58 307.61L532.68 308.39L532.71 308.58L532.83 309.54L532.95 310.50L533.07 311.47L533.19 312.43L533.31 313.39L533.42 314.35L533.54 315.31L533.65 316.27L533.74 316.97L533.77 317.23L533.88 318.18L533.99 319.14L534.10 320.09L534.21 321.04L534.31 322.00L534.42 322.95L534.52 323.90L534.63 324.85L534.73 325.79L534.79 326.33L534.83 326.74L534.93 327.68L535.03 328.63L535.13 329.57L535.23 330.51L535.32 331.45L535.42 332.39L535.51 333.32L535.61 334.26L535.70 335.19L535.79 336.12L535.84 336.64L535.88 337.05L535.97 337.98L536.06 338.90L536.14 339.83L536.23 340.75L536.31 341.67L536.40 342.59L536.48 343.51L536.56 344.43L536.64 345.34L536.72 346.25L536.80 347.16L536.88 348.07L536.89 348.19L536.96 348.98L537.03 349.88L537.11 350.78L537.18 351.68L537.26 352.58L537.33 353.48L537.40 354.37L537.47 355.26L537.54 356.15L537.61 357.04L537.68 357.92L537.75 358.80L537.81 359.68L537.88 360.56L537.94 361.43L537.94 361.46L538.01 362.31L538.07 363.18L538.13 364.04L538.19 364.91L538.25 365.77L538.31 366.63L538.37 367.49L538.43 368.34L538.48 369.19L538.54 370.04L538.60 370.89L538.65 371.73L538.70 372.57L538.76 373.41L538.81 374.24L538.86 375.07L538.91 375.90L538.96 376.72L539.00 377.33L539.01 377.55L539.06 378.36L539.10 379.18L539.15 379.99L539.20 380.80L539.24 381.61L539.29 382.41L539.33 383.21L539.37 384.01L539.42 384.80L539.46 385.59L539.50 386.37L539.54 387.15L539.58 387.93L539.62 388.71L539.66 389.48L539.69 390.25L539.73 391.01L539.77 391.77L539.80 392.52L539.84 393.28L539.87 394.02L539.91 394.77L539.94 395.51L539.97 396.24L540.00 396.97L540.04 397.70L540.05 397.99L540.07 398.42L540.10 399.14L540.13 399.86L540.15 400.57L540.18 401.27L540.21 401.97L540.24 402.67L540.26 403.36L540.29 404.05L540.32 404.73L540.34 405.41L540.37 406.08L540.39 406.75L540.41 407.41L540.44 408.07L540.46 408.72L540.48 409.36L540.50 410.00L540.52 410.64L540.54 411.27L540.56 411.89L540.58 412.51L540.60 413.13L540.62 413.73L540.64 414.33L540.66 414.93L540.67 415.52L540.69 416.10L540.71 416.68L540.72 417.25L540.74 417.81L540.75 418.37L540.77 418.92L540.78 419.46L540.79 420.00L540.81 420.53L540.82 421.05L540.83 421.56L540.84 422.07L540.86 422.57L540.87 423.06L540.88 423.54L540.89 424.02L540.90 424.48L540.91 424.94L540.92 425.39L540.93 425.84L540.94 426.27L540.95 426.69L540.95 427.11L540.96 427.52L540.97 427.91L540.98 428.30L540.99 428.68L540.99 429.05L540.99 429.19L541.00 429.41L541.01 429.76L541.01 430.10L541.02 430.43L541.02 430.74L541.03 431.05L541.03 431.35L541.04 431.64L541.04 431.92L541.05 432.18L541.05 432.44L541.05 432.68L541.06 432.92L541.06 433.14L541.06 433.36L541.07 433.56L541.07 433.75L541.07 433.94L541.08 434.11L541.08 434.27L541.08 434.42L541.08 434.57L541.08 434.70L541.09 434.82L541.09 434.94L541.09 435.03L541.09 435.04L541.09 435.14L541.09 435.23L541.09 435.31L541.09 435.38L541.10 435.45L541.10 435.51L541.10 435.56L541.10 435.60L541.10 435.64L541.10 435.67L541.10 435.70L541.10 435.72L541.10 435.73L541.10 435.75L541.10 435.76L541.10 435.77L541.10 435.78L541.10 435.79L541.10 435.79L541.10 435.80L541.10 435.80L541.10 435.80L541.10 435.80L541.10 435.80L541.10 435.80L541.10 435.80L541.10 435.80"/>
<path stroke="#a80404" stroke-dasharray="8.2 8.45" stroke-dashoffset="0" d="M541.10 435.80L542.15 435.80L543.20 435.80L544.26 435.80L545.31 435.80L546.36 435.80L547.41 435.80L548.46 435.80L549.52 435.80L550.57 435.80L551.62 435.80L552.67 435.80L553.72 435.80L554.78 435.80L555.83 435.80L556.88 435.80L557.93 435.80L558.98 435.80L560.04 435.80L561.09 435.80L562.14 435.80L563.19 435.80L564.24 435.80L565.30 435.80L566.35 435.80L567.40 435.80L568.45 435.80L569.50 435.80L570.56 435.80L571.61 435.80L572.66 435.80L573.71 435.80L574.76 435.80L575.82 435.80L576.87 435.80L577.92 435.80L578.97 435.80L580.02 435.80L581.08 435.80L582.13 435.80L583.18 435.80L584.23 435.80L585.28 435.80L586.34 435.80L587.39 435.80L588.44 435.80L589.49 435.80L590.54 435.80L591.60 435.80L592.65 435.80L593.70 435.80L594.75 435.80L595.80 435.80L596.86 435.80L597.91 435.80L598.96 435.80L600.01 435.80L601.06 435.80L602.12 435.80L603.17 435.80L604.22 435.80L605.27 435.80L606.32 435.80L607.38 435.80L608.43 435.80L609.48 435.80L610.53 435.80L611.58 435.80L612.64 435.80L613.69 435.80L614.74 435.80L615.79 435.80L616.84 435.80L617.90 435.80L618.95 435.80L620.00 435.80L621.05 435.80L622.10 435.80L623.16 435.80L624.21 435.80L625.26 435.80L626.31 435.80L627.36 435.80L628.42 435.80L629.47 435.80L630.52 435.80L631.57 435.80L632.62 435.80L633.68 435.80L634.73 435.80L635.78 435.80L636.83 435.80L637.88 435.80L638.94 435.80L639.99 435.80L641.04 435.80L642.09 435.80L643.14 435.80L644.20 435.80L645.25 435.80L646.30 435.80"/>
</g>
<g stroke="#000" stroke-opacity="0.58" stroke-width="1" fill="none">
<path d="M1.3 399.50H659.7"/>
<path d="M330.50 37.2V443.8"/>
<path d="M14.50 399.00v-2.1M35.50 399.00v-1.1M56.50 399.00v-1.1M77.50 399.00v-1.1M99.50 399.00v-1.1M120.50 399.00v-2.1M141.50 399.00v-1.1M162.50 399.00v-1.1M183.50 399.00v-1.1M204.50 399.00v-1.1M225.50 399.00v-2.1M246.50 399.00v-1.1M267.50 399.00v-1.1M288.50 399.00v-1.1M309.50 399.00v-1.1M351.50 399.00v-1.1M372.50 399.00v-1.1M393.50 399.00v-1.1M414.50 399.00v-1.1M435.50 399.00v-2.1M456.50 399.00v-1.1M477.50 399.00v-1.1M498.50 399.00v-1.1M519.50 399.00v-1.1M540.50 399.00v-2.1M561.50 399.00v-1.1M582.50 399.00v-1.1M603.50 399.00v-1.1M625.50 399.00v-1.1M646.50 399.00v-2.1M331.00 435.50h1.1M331.00 417.50h1.1M331.00 381.50h1.1M331.00 364.50h1.1M331.00 346.50h1.1M331.00 328.50h2.1M331.00 310.50h1.1M331.00 292.50h1.1M331.00 274.50h1.1M331.00 256.50h2.1M331.00 238.50h1.1M331.00 220.50h1.1M331.00 202.50h1.1M331.00 184.50h2.1M331.00 166.50h1.1M331.00 148.50h1.1M331.00 130.50h1.1M331.00 112.50h2.1M331.00 94.50h1.1M331.00 76.50h1.1M331.00 58.50h1.1M331.00 40.50h2.1"/>
</g>
</svg>
<div id="txt">
<span class="g" id="a1" style="left:290.55px;top:-0.85px;font-size:24.2px;font-style:italic;transform:scaleX(1.06);-webkit-text-stroke:0.35px #000;">&alpha;</span>
<span class="g" id="amp" style="left:312.20px;top:-0.85px;font-size:24.2px;transform:scaleX(1.05);-webkit-text-stroke:0.35px #000;">&amp;</span>
<span class="g" id="dl" style="left:337.85px;top:-2.00px;font-size:25.8px;transform:scaleX(1.015);-webkit-text-stroke:0.35px #000;">&Delta;</span>
<span class="g" id="a2" style="left:354.75px;top:-0.85px;font-size:24.2px;font-style:italic;transform:scaleX(1.06);-webkit-text-stroke:0.35px #000;">&alpha;</span>
<span class="g" id="y10" style="left:299.40px;top:26.27px;font-size:25.6px;letter-spacing:-0.6px;-webkit-text-stroke:0.25px #000;">10</span>
<span class="g" id="y8" style="left:311.95px;top:97.90px;font-size:25.6px;transform:scaleX(0.94);-webkit-text-stroke:0.25px #000;">8</span>
<span class="g" id="y6" style="left:311.30px;top:169.75px;font-size:25.6px;-webkit-text-stroke:0.25px #000;">6</span>
<span class="g" id="y4" style="left:311.15px;top:241.75px;font-size:25.6px;-webkit-text-stroke:0.25px #000;">4</span>
<span class="g" id="y2" style="left:311.70px;top:313.91px;font-size:25.6px;-webkit-text-stroke:0.25px #000;">2</span>
<span class="g" id="xm3m" style="left:-0.40px;top:405.65px;font-size:25.6px;transform:scaleX(1.13);-webkit-text-stroke:0.2px #000;">&minus;</span>
<span class="g" id="xm3" style="left:16.88px;top:403.70px;font-size:25.6px;transform:scaleX(0.94);-webkit-text-stroke:0.25px #000;">3</span>
<span class="g" id="xm2m" style="left:104.85px;top:405.65px;font-size:25.6px;transform:scaleX(1.13);-webkit-text-stroke:0.2px #000;">&minus;</span>
<span class="g" id="xm2" style="left:122.05px;top:403.77px;font-size:25.6px;-webkit-text-stroke:0.25px #000;">2</span>
<span class="g" id="xm1m" style="left:210.25px;top:405.65px;font-size:25.6px;transform:scaleX(1.13);-webkit-text-stroke:0.2px #000;">&minus;</span>
<span class="g" id="xm1" style="left:227.25px;top:403.82px;font-size:25.6px;transform:scaleX(0.88);-webkit-text-stroke:0.25px #000;">1</span>
<span class="g" id="x1" style="left:429.43px;top:403.93px;font-size:25.6px;transform:scaleX(0.88);-webkit-text-stroke:0.25px #000;">1</span>
<span class="g" id="x2" style="left:533.85px;top:403.77px;font-size:25.6px;-webkit-text-stroke:0.25px #000;">2</span>
<span class="g" id="x3" style="left:639.35px;top:403.70px;font-size:25.6px;transform:scaleX(0.94);-webkit-text-stroke:0.25px #000;">3</span>
<span class="g" id="n1" style="left:676.30px;top:386.15px;font-size:25px;font-style:italic;-webkit-text-stroke:0.4px #000;">N</span>
<span class="g" id="k" style="left:691.80px;top:393.55px;font-size:20.6px;font-style:italic;-webkit-text-stroke:0.4px #000;">k</span>
<span class="g" id="mn" style="left:707.55px;top:387.20px;font-size:25px;transform:scaleX(1.06);-webkit-text-stroke:0.2px #000;">&minus;</span>
<span class="g" id="n2" style="left:729.20px;top:386.15px;font-size:25px;font-style:italic;-webkit-text-stroke:0.4px #000;">N</span>
</div>
</body></html>
